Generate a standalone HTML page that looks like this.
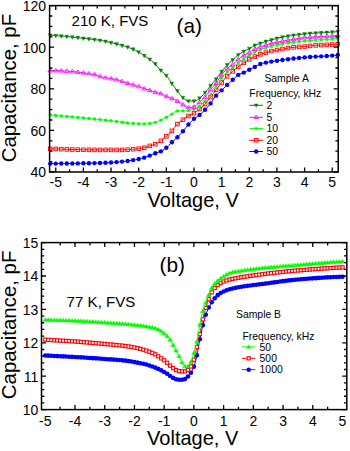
<!DOCTYPE html><html><head><meta charset="utf-8"><style>html,body{margin:0;padding:0;background:#fff;width:350px;height:451px;overflow:hidden}svg{display:block}</style></head><body><svg width="350" height="451" viewBox="0 0 350 451" font-family='"Liberation Sans", sans-serif' fill="#000"><rect width="350" height="451" fill="#fff"/><path d="M50.22 163.60L51.67 163.60L53.11 163.60L54.56 163.59L56.00 163.59L57.45 163.58L58.89 163.58L60.34 163.57L61.78 163.56L63.23 163.55L64.67 163.54L66.12 163.53L67.56 163.52L69.01 163.50L70.45 163.49L71.90 163.47L73.34 163.46L74.79 163.44L76.23 163.42L77.68 163.40L79.12 163.38L80.57 163.36L82.01 163.34L83.46 163.31L84.90 163.29L86.35 163.27L87.79 163.24L89.24 163.21L90.68 163.19L92.13 163.16L93.57 163.13L95.02 163.10L96.46 163.07L97.91 163.04L99.35 163.01L100.80 162.98L102.24 162.94L103.69 162.88L105.13 162.82L106.58 162.75L108.02 162.67L109.47 162.59L110.91 162.51L112.36 162.42L113.80 162.33L115.25 162.22L116.69 162.11L118.14 161.99L119.58 161.86L121.03 161.73L122.47 161.58L123.92 161.43L125.36 161.26L126.81 161.07L128.25 160.87L129.70 160.66L131.14 160.44L132.59 160.20L134.03 159.95L135.48 159.69L136.92 159.41L138.37 159.11L139.81 158.79L141.26 158.44L142.70 158.07L144.15 157.67L145.59 157.20L147.04 156.66L148.48 156.09L149.93 155.51L151.37 154.90L152.82 154.26L154.26 153.63L155.71 153.08L157.15 152.61L158.60 152.16L160.04 151.66L161.49 151.02L162.93 150.22L164.38 149.27L165.82 148.21L167.27 147.03L168.71 145.57L170.16 144.00L171.60 142.49L173.05 141.17L174.49 139.92L175.94 138.67L177.38 137.32L178.83 135.83L180.27 134.24L181.72 132.60L183.16 130.93L184.61 129.19L186.05 127.39L187.50 125.62L188.94 123.98L190.39 122.38L191.83 120.84L193.28 119.43L194.72 118.22L196.17 117.21L197.61 116.26L199.06 115.24L200.50 114.07L201.95 112.78L203.39 111.41L204.84 109.97L206.28 108.46L207.73 106.87L209.17 105.19L210.62 103.38L212.06 101.26L213.51 98.98L214.95 96.96L216.40 95.35L217.84 93.93L219.29 92.60L220.73 91.26L222.18 89.84L223.62 88.40L225.07 86.97L226.51 85.56L227.96 84.18L229.40 82.83L230.85 81.49L232.29 80.17L233.74 78.81L235.18 77.37L236.63 76.03L238.07 74.97L239.52 74.25L240.96 73.69L242.41 73.17L243.85 72.58L245.30 71.86L246.74 71.08L248.19 70.29L249.63 69.53L251.08 68.79L252.52 68.06L253.97 67.32L255.41 66.57L256.86 65.75L258.30 64.94L259.75 64.25L261.19 63.74L262.64 63.34L264.08 62.99L265.53 62.68L266.97 62.38L268.42 62.11L269.86 61.86L271.31 61.61L272.75 61.38L274.20 61.16L275.64 60.94L277.09 60.73L278.53 60.52L279.98 60.32L281.42 60.12L282.87 59.92L284.31 59.72L285.76 59.53L287.20 59.34L288.65 59.15L290.09 58.96L291.54 58.78L292.98 58.61L294.43 58.45L295.87 58.28L297.32 58.12L298.76 57.97L300.21 57.82L301.65 57.67L303.10 57.53L304.54 57.40L305.99 57.28L307.43 57.16L308.88 57.05L310.32 56.94L311.77 56.83L313.21 56.73L314.66 56.64L316.10 56.56L317.55 56.49L318.99 56.43L320.44 56.37L321.88 56.32L323.33 56.25L324.77 56.19L326.22 56.10L327.66 56.01L329.11 55.90L330.55 55.78L332.00 55.65L333.44 55.51L334.89 55.35L336.33 55.19L337.78 55.03" fill="none" stroke="#0000ff" stroke-width="1.0"/><circle cx="50.22" cy="163.60" r="2.2" fill="#0000ff" stroke="none" stroke-width="0"/><circle cx="55.75" cy="163.59" r="2.2" fill="#0000ff" stroke="none" stroke-width="0"/><circle cx="61.28" cy="163.56" r="2.2" fill="#0000ff" stroke="none" stroke-width="0"/><circle cx="66.81" cy="163.52" r="2.2" fill="#0000ff" stroke="none" stroke-width="0"/><circle cx="72.34" cy="163.47" r="2.2" fill="#0000ff" stroke="none" stroke-width="0"/><circle cx="77.87" cy="163.40" r="2.2" fill="#0000ff" stroke="none" stroke-width="0"/><circle cx="83.40" cy="163.31" r="2.2" fill="#0000ff" stroke="none" stroke-width="0"/><circle cx="88.93" cy="163.22" r="2.2" fill="#0000ff" stroke="none" stroke-width="0"/><circle cx="94.46" cy="163.12" r="2.2" fill="#0000ff" stroke="none" stroke-width="0"/><circle cx="99.99" cy="163.00" r="2.2" fill="#0000ff" stroke="none" stroke-width="0"/><circle cx="105.52" cy="162.80" r="2.2" fill="#0000ff" stroke="none" stroke-width="0"/><circle cx="111.05" cy="162.50" r="2.2" fill="#0000ff" stroke="none" stroke-width="0"/><circle cx="116.58" cy="162.12" r="2.2" fill="#0000ff" stroke="none" stroke-width="0"/><circle cx="122.11" cy="161.62" r="2.2" fill="#0000ff" stroke="none" stroke-width="0"/><circle cx="127.64" cy="160.96" r="2.2" fill="#0000ff" stroke="none" stroke-width="0"/><circle cx="133.17" cy="160.10" r="2.2" fill="#0000ff" stroke="none" stroke-width="0"/><circle cx="138.70" cy="159.04" r="2.2" fill="#0000ff" stroke="none" stroke-width="0"/><circle cx="144.23" cy="157.65" r="2.2" fill="#0000ff" stroke="none" stroke-width="0"/><circle cx="149.76" cy="155.58" r="2.2" fill="#0000ff" stroke="none" stroke-width="0"/><circle cx="155.29" cy="153.23" r="2.2" fill="#0000ff" stroke="none" stroke-width="0"/><circle cx="160.82" cy="151.34" r="2.2" fill="#0000ff" stroke="none" stroke-width="0"/><circle cx="166.35" cy="147.80" r="2.2" fill="#0000ff" stroke="none" stroke-width="0"/><circle cx="171.88" cy="142.23" r="2.2" fill="#0000ff" stroke="none" stroke-width="0"/><circle cx="177.41" cy="137.29" r="2.2" fill="#0000ff" stroke="none" stroke-width="0"/><circle cx="182.94" cy="131.19" r="2.2" fill="#0000ff" stroke="none" stroke-width="0"/><circle cx="188.47" cy="124.51" r="2.2" fill="#0000ff" stroke="none" stroke-width="0"/><circle cx="194.00" cy="118.80" r="2.2" fill="#0000ff" stroke="none" stroke-width="0"/><circle cx="199.53" cy="114.88" r="2.2" fill="#0000ff" stroke="none" stroke-width="0"/><circle cx="205.06" cy="109.74" r="2.2" fill="#0000ff" stroke="none" stroke-width="0"/><circle cx="210.59" cy="103.41" r="2.2" fill="#0000ff" stroke="none" stroke-width="0"/><circle cx="216.12" cy="95.64" r="2.2" fill="#0000ff" stroke="none" stroke-width="0"/><circle cx="221.65" cy="90.36" r="2.2" fill="#0000ff" stroke="none" stroke-width="0"/><circle cx="227.18" cy="84.92" r="2.2" fill="#0000ff" stroke="none" stroke-width="0"/><circle cx="232.71" cy="79.79" r="2.2" fill="#0000ff" stroke="none" stroke-width="0"/><circle cx="238.24" cy="74.88" r="2.2" fill="#0000ff" stroke="none" stroke-width="0"/><circle cx="243.77" cy="72.61" r="2.2" fill="#0000ff" stroke="none" stroke-width="0"/><circle cx="249.30" cy="69.70" r="2.2" fill="#0000ff" stroke="none" stroke-width="0"/><circle cx="254.83" cy="66.88" r="2.2" fill="#0000ff" stroke="none" stroke-width="0"/><circle cx="260.36" cy="64.01" r="2.2" fill="#0000ff" stroke="none" stroke-width="0"/><circle cx="265.89" cy="62.60" r="2.2" fill="#0000ff" stroke="none" stroke-width="0"/><circle cx="271.42" cy="61.60" r="2.2" fill="#0000ff" stroke="none" stroke-width="0"/><circle cx="276.95" cy="60.75" r="2.2" fill="#0000ff" stroke="none" stroke-width="0"/><circle cx="282.48" cy="59.98" r="2.2" fill="#0000ff" stroke="none" stroke-width="0"/><circle cx="288.01" cy="59.23" r="2.2" fill="#0000ff" stroke="none" stroke-width="0"/><circle cx="293.54" cy="58.55" r="2.2" fill="#0000ff" stroke="none" stroke-width="0"/><circle cx="299.07" cy="57.93" r="2.2" fill="#0000ff" stroke="none" stroke-width="0"/><circle cx="304.60" cy="57.40" r="2.2" fill="#0000ff" stroke="none" stroke-width="0"/><circle cx="310.13" cy="56.95" r="2.2" fill="#0000ff" stroke="none" stroke-width="0"/><circle cx="315.66" cy="56.59" r="2.2" fill="#0000ff" stroke="none" stroke-width="0"/><circle cx="321.19" cy="56.34" r="2.2" fill="#0000ff" stroke="none" stroke-width="0"/><circle cx="326.72" cy="56.07" r="2.2" fill="#0000ff" stroke="none" stroke-width="0"/><circle cx="332.25" cy="55.62" r="2.2" fill="#0000ff" stroke="none" stroke-width="0"/><circle cx="337.78" cy="55.03" r="2.2" fill="#0000ff" stroke="none" stroke-width="0"/><path d="M50.22 148.81L51.67 148.86L53.11 148.91L54.56 148.97L56.00 149.02L57.45 149.07L58.89 149.12L60.34 149.16L61.78 149.21L63.23 149.26L64.67 149.30L66.12 149.34L67.56 149.39L69.01 149.43L70.45 149.47L71.90 149.51L73.34 149.54L74.79 149.58L76.23 149.61L77.68 149.64L79.12 149.67L80.57 149.70L82.01 149.73L83.46 149.75L84.90 149.78L86.35 149.80L87.79 149.82L89.24 149.84L90.68 149.85L92.13 149.87L93.57 149.88L95.02 149.89L96.46 149.89L97.91 149.90L99.35 149.90L100.80 149.90L102.24 149.90L103.69 149.90L105.13 149.90L106.58 149.90L108.02 149.90L109.47 149.90L110.91 149.90L112.36 149.90L113.80 149.90L115.25 149.90L116.69 149.90L118.14 149.90L119.58 149.90L121.03 149.90L122.47 149.90L123.92 149.88L125.36 149.82L126.81 149.74L128.25 149.65L129.70 149.53L131.14 149.42L132.59 149.30L134.03 149.18L135.48 149.05L136.92 148.90L138.37 148.73L139.81 148.54L141.26 148.32L142.70 148.08L144.15 147.81L145.59 147.41L147.04 146.90L148.48 146.36L149.93 145.82L151.37 145.37L152.82 144.97L154.26 144.55L155.71 144.01L157.15 143.28L158.60 142.38L160.04 141.38L161.49 140.34L162.93 139.24L164.38 138.06L165.82 136.80L167.27 135.49L168.71 134.12L170.16 132.68L171.60 131.16L173.05 129.52L174.49 127.64L175.94 125.75L177.38 124.12L178.83 122.81L180.27 121.66L181.72 120.60L183.16 119.55L184.61 118.52L186.05 117.52L187.50 116.59L188.94 115.73L190.39 114.99L191.83 114.28L193.28 113.52L194.72 112.64L196.17 111.66L197.61 110.59L199.06 109.46L200.50 108.28L201.95 107.04L203.39 105.71L204.84 104.27L206.28 102.67L207.73 100.87L209.17 98.97L210.62 97.08L212.06 95.20L213.51 93.30L214.95 91.39L216.40 89.47L217.84 87.50L219.29 85.54L220.73 83.66L222.18 81.89L223.62 80.18L225.07 78.54L226.51 77.00L227.96 75.56L229.40 74.23L230.85 72.98L232.29 71.75L233.74 70.52L235.18 69.31L236.63 68.13L238.07 67.00L239.52 65.91L240.96 64.86L242.41 63.85L243.85 62.86L245.30 61.90L246.74 60.95L248.19 60.05L249.63 59.21L251.08 58.43L252.52 57.69L253.97 56.98L255.41 56.32L256.86 55.69L258.30 55.09L259.75 54.54L261.19 54.03L262.64 53.56L264.08 53.13L265.53 52.71L266.97 52.29L268.42 51.87L269.86 51.47L271.31 51.12L272.75 50.81L274.20 50.52L275.64 50.24L277.09 49.98L278.53 49.73L279.98 49.49L281.42 49.25L282.87 49.00L284.31 48.75L285.76 48.50L287.20 48.25L288.65 48.01L290.09 47.78L291.54 47.58L292.98 47.41L294.43 47.27L295.87 47.15L297.32 47.03L298.76 46.93L300.21 46.83L301.65 46.73L303.10 46.62L304.54 46.50L305.99 46.37L307.43 46.21L308.88 46.05L310.32 45.88L311.77 45.72L313.21 45.57L314.66 45.45L316.10 45.36L317.55 45.28L318.99 45.21L320.44 45.15L321.88 45.09L323.33 45.04L324.77 44.97L326.22 44.90L327.66 44.83L329.11 44.75L330.55 44.67L332.00 44.58L333.44 44.49L334.89 44.40L336.33 44.31L337.78 44.21" fill="none" stroke="#ff0000" stroke-width="1.0"/><rect x="48.42" y="147.01" width="3.6" height="3.6" fill="none" stroke="#ff0000" stroke-width="0.9"/><rect x="53.95" y="147.21" width="3.6" height="3.6" fill="none" stroke="#ff0000" stroke-width="0.9"/><rect x="59.48" y="147.39" width="3.6" height="3.6" fill="none" stroke="#ff0000" stroke-width="0.9"/><rect x="65.01" y="147.57" width="3.6" height="3.6" fill="none" stroke="#ff0000" stroke-width="0.9"/><rect x="70.54" y="147.72" width="3.6" height="3.6" fill="none" stroke="#ff0000" stroke-width="0.9"/><rect x="76.07" y="147.85" width="3.6" height="3.6" fill="none" stroke="#ff0000" stroke-width="0.9"/><rect x="81.60" y="147.95" width="3.6" height="3.6" fill="none" stroke="#ff0000" stroke-width="0.9"/><rect x="87.13" y="148.03" width="3.6" height="3.6" fill="none" stroke="#ff0000" stroke-width="0.9"/><rect x="92.66" y="148.08" width="3.6" height="3.6" fill="none" stroke="#ff0000" stroke-width="0.9"/><rect x="98.19" y="148.10" width="3.6" height="3.6" fill="none" stroke="#ff0000" stroke-width="0.9"/><rect x="103.72" y="148.10" width="3.6" height="3.6" fill="none" stroke="#ff0000" stroke-width="0.9"/><rect x="109.25" y="148.10" width="3.6" height="3.6" fill="none" stroke="#ff0000" stroke-width="0.9"/><rect x="114.78" y="148.10" width="3.6" height="3.6" fill="none" stroke="#ff0000" stroke-width="0.9"/><rect x="120.31" y="148.10" width="3.6" height="3.6" fill="none" stroke="#ff0000" stroke-width="0.9"/><rect x="125.84" y="147.89" width="3.6" height="3.6" fill="none" stroke="#ff0000" stroke-width="0.9"/><rect x="131.37" y="147.45" width="3.6" height="3.6" fill="none" stroke="#ff0000" stroke-width="0.9"/><rect x="136.90" y="146.88" width="3.6" height="3.6" fill="none" stroke="#ff0000" stroke-width="0.9"/><rect x="142.43" y="145.99" width="3.6" height="3.6" fill="none" stroke="#ff0000" stroke-width="0.9"/><rect x="147.96" y="144.08" width="3.6" height="3.6" fill="none" stroke="#ff0000" stroke-width="0.9"/><rect x="153.49" y="142.38" width="3.6" height="3.6" fill="none" stroke="#ff0000" stroke-width="0.9"/><rect x="159.02" y="139.02" width="3.6" height="3.6" fill="none" stroke="#ff0000" stroke-width="0.9"/><rect x="164.55" y="134.53" width="3.6" height="3.6" fill="none" stroke="#ff0000" stroke-width="0.9"/><rect x="170.08" y="129.06" width="3.6" height="3.6" fill="none" stroke="#ff0000" stroke-width="0.9"/><rect x="175.61" y="122.29" width="3.6" height="3.6" fill="none" stroke="#ff0000" stroke-width="0.9"/><rect x="181.14" y="117.92" width="3.6" height="3.6" fill="none" stroke="#ff0000" stroke-width="0.9"/><rect x="186.67" y="114.20" width="3.6" height="3.6" fill="none" stroke="#ff0000" stroke-width="0.9"/><rect x="192.20" y="111.30" width="3.6" height="3.6" fill="none" stroke="#ff0000" stroke-width="0.9"/><rect x="197.73" y="107.28" width="3.6" height="3.6" fill="none" stroke="#ff0000" stroke-width="0.9"/><rect x="203.26" y="102.24" width="3.6" height="3.6" fill="none" stroke="#ff0000" stroke-width="0.9"/><rect x="208.79" y="95.31" width="3.6" height="3.6" fill="none" stroke="#ff0000" stroke-width="0.9"/><rect x="214.32" y="88.04" width="3.6" height="3.6" fill="none" stroke="#ff0000" stroke-width="0.9"/><rect x="219.85" y="80.73" width="3.6" height="3.6" fill="none" stroke="#ff0000" stroke-width="0.9"/><rect x="225.38" y="74.52" width="3.6" height="3.6" fill="none" stroke="#ff0000" stroke-width="0.9"/><rect x="230.91" y="69.59" width="3.6" height="3.6" fill="none" stroke="#ff0000" stroke-width="0.9"/><rect x="236.44" y="65.07" width="3.6" height="3.6" fill="none" stroke="#ff0000" stroke-width="0.9"/><rect x="241.97" y="61.12" width="3.6" height="3.6" fill="none" stroke="#ff0000" stroke-width="0.9"/><rect x="247.50" y="57.60" width="3.6" height="3.6" fill="none" stroke="#ff0000" stroke-width="0.9"/><rect x="253.03" y="54.79" width="3.6" height="3.6" fill="none" stroke="#ff0000" stroke-width="0.9"/><rect x="258.56" y="52.51" width="3.6" height="3.6" fill="none" stroke="#ff0000" stroke-width="0.9"/><rect x="264.09" y="50.80" width="3.6" height="3.6" fill="none" stroke="#ff0000" stroke-width="0.9"/><rect x="269.62" y="49.30" width="3.6" height="3.6" fill="none" stroke="#ff0000" stroke-width="0.9"/><rect x="275.15" y="48.21" width="3.6" height="3.6" fill="none" stroke="#ff0000" stroke-width="0.9"/><rect x="280.68" y="47.27" width="3.6" height="3.6" fill="none" stroke="#ff0000" stroke-width="0.9"/><rect x="286.21" y="46.31" width="3.6" height="3.6" fill="none" stroke="#ff0000" stroke-width="0.9"/><rect x="291.74" y="45.55" width="3.6" height="3.6" fill="none" stroke="#ff0000" stroke-width="0.9"/><rect x="297.27" y="45.11" width="3.6" height="3.6" fill="none" stroke="#ff0000" stroke-width="0.9"/><rect x="302.80" y="44.70" width="3.6" height="3.6" fill="none" stroke="#ff0000" stroke-width="0.9"/><rect x="308.33" y="44.10" width="3.6" height="3.6" fill="none" stroke="#ff0000" stroke-width="0.9"/><rect x="313.86" y="43.58" width="3.6" height="3.6" fill="none" stroke="#ff0000" stroke-width="0.9"/><rect x="319.39" y="43.32" width="3.6" height="3.6" fill="none" stroke="#ff0000" stroke-width="0.9"/><rect x="324.92" y="43.08" width="3.6" height="3.6" fill="none" stroke="#ff0000" stroke-width="0.9"/><rect x="330.45" y="42.77" width="3.6" height="3.6" fill="none" stroke="#ff0000" stroke-width="0.9"/><rect x="335.98" y="42.41" width="3.6" height="3.6" fill="none" stroke="#ff0000" stroke-width="0.9"/><path d="M50.22 115.02L51.67 115.13L53.11 115.25L54.56 115.37L56.00 115.48L57.45 115.61L58.89 115.73L60.34 115.85L61.78 115.97L63.23 116.10L64.67 116.23L66.12 116.35L67.56 116.48L69.01 116.61L70.45 116.74L71.90 116.87L73.34 117.01L74.79 117.14L76.23 117.28L77.68 117.41L79.12 117.55L80.57 117.68L82.01 117.82L83.46 117.96L84.90 118.10L86.35 118.24L87.79 118.38L89.24 118.53L90.68 118.67L92.13 118.81L93.57 118.95L95.02 119.10L96.46 119.24L97.91 119.39L99.35 119.53L100.80 119.68L102.24 119.83L103.69 119.98L105.13 120.13L106.58 120.29L108.02 120.45L109.47 120.61L110.91 120.78L112.36 120.95L113.80 121.12L115.25 121.30L116.69 121.49L118.14 121.67L119.58 121.85L121.03 122.04L122.47 122.22L123.92 122.42L125.36 122.63L126.81 122.85L128.25 123.05L129.70 123.24L131.14 123.39L132.59 123.50L134.03 123.58L135.48 123.66L136.92 123.73L138.37 123.79L139.81 123.84L141.26 123.87L142.70 123.90L144.15 123.90L145.59 123.85L147.04 123.75L148.48 123.62L149.93 123.48L151.37 123.26L152.82 122.97L154.26 122.62L155.71 122.23L157.15 121.72L158.60 121.13L160.04 120.49L161.49 119.83L162.93 119.10L164.38 118.33L165.82 117.53L167.27 116.73L168.71 115.92L170.16 115.09L171.60 114.26L173.05 113.28L174.49 112.18L175.94 111.28L177.38 110.90L178.83 110.90L180.27 110.90L181.72 110.90L183.16 110.90L184.61 110.87L186.05 110.79L187.50 110.69L188.94 110.55L190.39 110.27L191.83 109.85L193.28 109.36L194.72 108.83L196.17 108.20L197.61 107.45L199.06 106.59L200.50 105.57L201.95 104.29L203.39 102.86L204.84 101.37L206.28 99.89L207.73 98.37L209.17 96.72L210.62 94.88L212.06 92.60L213.51 89.98L214.95 87.37L216.40 85.13L217.84 83.09L219.29 81.13L220.73 79.26L222.18 77.48L223.62 75.78L225.07 74.18L226.51 72.68L227.96 71.29L229.40 70.04L230.85 68.88L232.29 67.73L233.74 66.54L235.18 65.33L236.63 64.14L238.07 63.00L239.52 61.91L240.96 60.86L242.41 59.85L243.85 58.86L245.30 57.91L246.74 57.00L248.19 56.09L249.63 55.19L251.08 54.24L252.52 53.31L253.97 52.44L255.41 51.70L256.86 51.06L258.30 50.47L259.75 49.93L261.19 49.43L262.64 48.97L264.08 48.54L265.53 48.11L266.97 47.66L268.42 47.19L269.86 46.73L271.31 46.32L272.75 45.96L274.20 45.62L275.64 45.30L277.09 45.00L278.53 44.71L279.98 44.43L281.42 44.16L282.87 43.90L284.31 43.65L285.76 43.40L287.20 43.17L288.65 42.95L290.09 42.73L291.54 42.52L292.98 42.32L294.43 42.12L295.87 41.92L297.32 41.73L298.76 41.55L300.21 41.37L301.65 41.20L303.10 41.05L304.54 40.91L305.99 40.78L307.43 40.66L308.88 40.55L310.32 40.45L311.77 40.35L313.21 40.25L314.66 40.15L316.10 40.05L317.55 39.96L318.99 39.87L320.44 39.78L321.88 39.69L323.33 39.60L324.77 39.50L326.22 39.41L327.66 39.30L329.11 39.20L330.55 39.09L332.00 38.98L333.44 38.87L334.89 38.75L336.33 38.64L337.78 38.52" fill="none" stroke="#00ff00" stroke-width="1.0"/><circle cx="50.22" cy="115.02" r="1.7" fill="#00ff00" stroke="none" stroke-width="0"/><circle cx="55.75" cy="115.46" r="1.7" fill="#00ff00" stroke="none" stroke-width="0"/><circle cx="61.28" cy="115.93" r="1.7" fill="#00ff00" stroke="none" stroke-width="0"/><circle cx="66.81" cy="116.41" r="1.7" fill="#00ff00" stroke="none" stroke-width="0"/><circle cx="72.34" cy="116.91" r="1.7" fill="#00ff00" stroke="none" stroke-width="0"/><circle cx="77.87" cy="117.43" r="1.7" fill="#00ff00" stroke="none" stroke-width="0"/><circle cx="83.40" cy="117.96" r="1.7" fill="#00ff00" stroke="none" stroke-width="0"/><circle cx="88.93" cy="118.50" r="1.7" fill="#00ff00" stroke="none" stroke-width="0"/><circle cx="94.46" cy="119.04" r="1.7" fill="#00ff00" stroke="none" stroke-width="0"/><circle cx="99.99" cy="119.60" r="1.7" fill="#00ff00" stroke="none" stroke-width="0"/><circle cx="105.52" cy="120.18" r="1.7" fill="#00ff00" stroke="none" stroke-width="0"/><circle cx="111.05" cy="120.79" r="1.7" fill="#00ff00" stroke="none" stroke-width="0"/><circle cx="116.58" cy="121.47" r="1.7" fill="#00ff00" stroke="none" stroke-width="0"/><circle cx="122.11" cy="122.18" r="1.7" fill="#00ff00" stroke="none" stroke-width="0"/><circle cx="127.64" cy="122.97" r="1.7" fill="#00ff00" stroke="none" stroke-width="0"/><circle cx="133.17" cy="123.53" r="1.7" fill="#00ff00" stroke="none" stroke-width="0"/><circle cx="138.70" cy="123.80" r="1.7" fill="#00ff00" stroke="none" stroke-width="0"/><circle cx="144.23" cy="123.90" r="1.7" fill="#00ff00" stroke="none" stroke-width="0"/><circle cx="149.76" cy="123.49" r="1.7" fill="#00ff00" stroke="none" stroke-width="0"/><circle cx="155.29" cy="122.35" r="1.7" fill="#00ff00" stroke="none" stroke-width="0"/><circle cx="160.82" cy="120.14" r="1.7" fill="#00ff00" stroke="none" stroke-width="0"/><circle cx="166.35" cy="117.24" r="1.7" fill="#00ff00" stroke="none" stroke-width="0"/><circle cx="171.88" cy="114.09" r="1.7" fill="#00ff00" stroke="none" stroke-width="0"/><circle cx="177.41" cy="110.90" r="1.7" fill="#00ff00" stroke="none" stroke-width="0"/><circle cx="182.94" cy="110.90" r="1.7" fill="#00ff00" stroke="none" stroke-width="0"/><circle cx="188.47" cy="110.60" r="1.7" fill="#00ff00" stroke="none" stroke-width="0"/><circle cx="194.00" cy="109.10" r="1.7" fill="#00ff00" stroke="none" stroke-width="0"/><circle cx="199.53" cy="106.28" r="1.7" fill="#00ff00" stroke="none" stroke-width="0"/><circle cx="205.06" cy="101.14" r="1.7" fill="#00ff00" stroke="none" stroke-width="0"/><circle cx="210.59" cy="94.91" r="1.7" fill="#00ff00" stroke="none" stroke-width="0"/><circle cx="216.12" cy="85.53" r="1.7" fill="#00ff00" stroke="none" stroke-width="0"/><circle cx="221.65" cy="78.12" r="1.7" fill="#00ff00" stroke="none" stroke-width="0"/><circle cx="227.18" cy="72.02" r="1.7" fill="#00ff00" stroke="none" stroke-width="0"/><circle cx="232.71" cy="67.39" r="1.7" fill="#00ff00" stroke="none" stroke-width="0"/><circle cx="238.24" cy="62.87" r="1.7" fill="#00ff00" stroke="none" stroke-width="0"/><circle cx="243.77" cy="58.92" r="1.7" fill="#00ff00" stroke="none" stroke-width="0"/><circle cx="249.30" cy="55.40" r="1.7" fill="#00ff00" stroke="none" stroke-width="0"/><circle cx="254.83" cy="51.99" r="1.7" fill="#00ff00" stroke="none" stroke-width="0"/><circle cx="260.36" cy="49.71" r="1.7" fill="#00ff00" stroke="none" stroke-width="0"/><circle cx="265.89" cy="48.00" r="1.7" fill="#00ff00" stroke="none" stroke-width="0"/><circle cx="271.42" cy="46.29" r="1.7" fill="#00ff00" stroke="none" stroke-width="0"/><circle cx="276.95" cy="45.03" r="1.7" fill="#00ff00" stroke="none" stroke-width="0"/><circle cx="282.48" cy="43.97" r="1.7" fill="#00ff00" stroke="none" stroke-width="0"/><circle cx="288.01" cy="43.04" r="1.7" fill="#00ff00" stroke="none" stroke-width="0"/><circle cx="293.54" cy="42.24" r="1.7" fill="#00ff00" stroke="none" stroke-width="0"/><circle cx="299.07" cy="41.51" r="1.7" fill="#00ff00" stroke="none" stroke-width="0"/><circle cx="304.60" cy="40.90" r="1.7" fill="#00ff00" stroke="none" stroke-width="0"/><circle cx="310.13" cy="40.46" r="1.7" fill="#00ff00" stroke="none" stroke-width="0"/><circle cx="315.66" cy="40.08" r="1.7" fill="#00ff00" stroke="none" stroke-width="0"/><circle cx="321.19" cy="39.73" r="1.7" fill="#00ff00" stroke="none" stroke-width="0"/><circle cx="326.72" cy="39.37" r="1.7" fill="#00ff00" stroke="none" stroke-width="0"/><circle cx="332.25" cy="38.96" r="1.7" fill="#00ff00" stroke="none" stroke-width="0"/><circle cx="337.78" cy="38.52" r="1.7" fill="#00ff00" stroke="none" stroke-width="0"/><path d="M50.22 70.50L51.67 70.50L53.11 70.51L54.56 70.53L56.00 70.56L57.45 70.60L58.89 70.65L60.34 70.71L61.78 70.77L63.23 70.85L64.67 70.93L66.12 71.03L67.56 71.13L69.01 71.24L70.45 71.36L71.90 71.49L73.34 71.63L74.79 71.77L76.23 71.93L77.68 72.09L79.12 72.26L80.57 72.43L82.01 72.62L83.46 72.81L84.90 73.01L86.35 73.22L87.79 73.43L89.24 73.65L90.68 73.88L92.13 74.12L93.57 74.36L95.02 74.64L96.46 75.13L97.91 75.74L99.35 76.30L100.80 76.70L102.24 77.04L103.69 77.34L105.13 77.61L106.58 77.86L108.02 78.10L109.47 78.33L110.91 78.56L112.36 78.81L113.80 79.07L115.25 79.36L116.69 79.68L118.14 80.04L119.58 80.46L121.03 80.91L122.47 81.39L123.92 81.88L125.36 82.37L126.81 82.84L128.25 83.30L129.70 83.75L131.14 84.19L132.59 84.64L134.03 85.06L135.48 85.48L136.92 85.90L138.37 86.36L139.81 86.88L141.26 87.47L142.70 88.06L144.15 88.58L145.59 89.03L147.04 89.45L148.48 89.87L149.93 90.35L151.37 90.87L152.82 91.41L154.26 91.91L155.71 92.31L157.15 92.62L158.60 92.92L160.04 93.29L161.49 93.86L162.93 94.77L164.38 95.59L165.82 96.10L167.27 96.63L168.71 97.18L170.16 97.75L171.60 98.34L173.05 98.97L174.49 99.63L175.94 100.33L177.38 101.09L178.83 101.96L180.27 102.92L181.72 103.89L183.16 104.75L184.61 105.68L186.05 106.60L187.50 107.25L188.94 107.40L190.39 107.33L191.83 107.20L193.28 107.01L194.72 106.67L196.17 105.64L197.61 104.20L199.06 102.71L200.50 101.43L201.95 100.18L203.39 98.85L204.84 97.39L206.28 95.64L207.73 93.59L209.17 91.45L210.62 89.48L212.06 87.76L213.51 86.16L214.95 84.51L216.40 82.66L217.84 80.47L219.29 78.16L220.73 75.99L222.18 74.12L223.62 72.35L225.07 70.71L226.51 69.23L227.96 67.97L229.40 66.93L230.85 65.96L232.29 64.92L233.74 63.68L235.18 62.26L236.63 60.82L238.07 59.50L239.52 58.35L240.96 57.27L242.41 56.27L243.85 55.37L245.30 54.59L246.74 53.89L248.19 53.19L249.63 52.41L251.08 51.47L252.52 50.47L253.97 49.55L255.41 48.81L256.86 48.20L258.30 47.65L259.75 47.13L261.19 46.62L262.64 46.14L264.08 45.67L265.53 45.22L266.97 44.75L268.42 44.28L269.86 43.83L271.31 43.42L272.75 43.06L274.20 42.72L275.64 42.40L277.09 42.10L278.53 41.81L279.98 41.53L281.42 41.26L282.87 41.00L284.31 40.75L285.76 40.52L287.20 40.29L288.65 40.08L290.09 39.86L291.54 39.64L292.98 39.42L294.43 39.18L295.87 38.94L297.32 38.68L298.76 38.43L300.21 38.19L301.65 37.97L303.10 37.77L304.54 37.61L305.99 37.47L307.43 37.34L308.88 37.22L310.32 37.12L311.77 37.02L313.21 36.93L314.66 36.84L316.10 36.76L317.55 36.69L318.99 36.63L320.44 36.57L321.88 36.51L323.33 36.45L324.77 36.38L326.22 36.30L327.66 36.22L329.11 36.12L330.55 36.02L332.00 35.91L333.44 35.80L334.89 35.68L336.33 35.55L337.78 35.42" fill="none" stroke="#ff00ff" stroke-width="1.0"/><path d="M47.92 71.88L52.52 71.88L50.22 68.32Z" fill="none" stroke="#ff00ff" stroke-width="0.85"/><path d="M53.45 71.94L58.05 71.94L55.75 68.37Z" fill="none" stroke="#ff00ff" stroke-width="0.85"/><path d="M58.98 72.13L63.58 72.13L61.28 68.56Z" fill="none" stroke="#ff00ff" stroke-width="0.85"/><path d="M64.51 72.46L69.11 72.46L66.81 68.89Z" fill="none" stroke="#ff00ff" stroke-width="0.85"/><path d="M70.04 72.91L74.64 72.91L72.34 69.35Z" fill="none" stroke="#ff00ff" stroke-width="0.85"/><path d="M75.57 73.49L80.17 73.49L77.87 69.93Z" fill="none" stroke="#ff00ff" stroke-width="0.85"/><path d="M81.10 74.18L85.70 74.18L83.40 70.62Z" fill="none" stroke="#ff00ff" stroke-width="0.85"/><path d="M86.63 74.99L91.23 74.99L88.93 71.42Z" fill="none" stroke="#ff00ff" stroke-width="0.85"/><path d="M92.16 75.89L96.76 75.89L94.46 72.33Z" fill="none" stroke="#ff00ff" stroke-width="0.85"/><path d="M97.69 77.88L102.29 77.88L99.99 74.31Z" fill="none" stroke="#ff00ff" stroke-width="0.85"/><path d="M103.22 79.06L107.82 79.06L105.52 75.49Z" fill="none" stroke="#ff00ff" stroke-width="0.85"/><path d="M108.75 79.97L113.35 79.97L111.05 76.40Z" fill="none" stroke="#ff00ff" stroke-width="0.85"/><path d="M114.28 81.03L118.88 81.03L116.58 77.47Z" fill="none" stroke="#ff00ff" stroke-width="0.85"/><path d="M119.81 82.65L124.41 82.65L122.11 79.08Z" fill="none" stroke="#ff00ff" stroke-width="0.85"/><path d="M125.34 84.49L129.94 84.49L127.64 80.92Z" fill="none" stroke="#ff00ff" stroke-width="0.85"/><path d="M130.87 86.19L135.47 86.19L133.17 82.63Z" fill="none" stroke="#ff00ff" stroke-width="0.85"/><path d="M136.40 87.85L141.00 87.85L138.70 84.28Z" fill="none" stroke="#ff00ff" stroke-width="0.85"/><path d="M141.93 89.99L146.53 89.99L144.23 86.43Z" fill="none" stroke="#ff00ff" stroke-width="0.85"/><path d="M147.46 91.67L152.06 91.67L149.76 88.10Z" fill="none" stroke="#ff00ff" stroke-width="0.85"/><path d="M152.99 93.59L157.59 93.59L155.29 90.02Z" fill="none" stroke="#ff00ff" stroke-width="0.85"/><path d="M158.52 94.92L163.12 94.92L160.82 91.36Z" fill="none" stroke="#ff00ff" stroke-width="0.85"/><path d="M164.05 97.67L168.65 97.67L166.35 94.11Z" fill="none" stroke="#ff00ff" stroke-width="0.85"/><path d="M169.58 99.84L174.18 99.84L171.88 96.28Z" fill="none" stroke="#ff00ff" stroke-width="0.85"/><path d="M175.11 102.49L179.71 102.49L177.41 98.92Z" fill="none" stroke="#ff00ff" stroke-width="0.85"/><path d="M180.64 106.00L185.24 106.00L182.94 102.44Z" fill="none" stroke="#ff00ff" stroke-width="0.85"/><path d="M186.17 108.78L190.77 108.78L188.47 105.21Z" fill="none" stroke="#ff00ff" stroke-width="0.85"/><path d="M191.70 108.28L196.30 108.28L194.00 104.72Z" fill="none" stroke="#ff00ff" stroke-width="0.85"/><path d="M197.23 103.65L201.83 103.65L199.53 100.09Z" fill="none" stroke="#ff00ff" stroke-width="0.85"/><path d="M202.76 98.52L207.36 98.52L205.06 94.96Z" fill="none" stroke="#ff00ff" stroke-width="0.85"/><path d="M208.29 90.89L212.89 90.89L210.59 87.33Z" fill="none" stroke="#ff00ff" stroke-width="0.85"/><path d="M213.82 84.42L218.42 84.42L216.12 80.86Z" fill="none" stroke="#ff00ff" stroke-width="0.85"/><path d="M219.35 76.17L223.95 76.17L221.65 72.61Z" fill="none" stroke="#ff00ff" stroke-width="0.85"/><path d="M224.88 70.00L229.48 70.00L227.18 66.43Z" fill="none" stroke="#ff00ff" stroke-width="0.85"/><path d="M230.41 65.97L235.01 65.97L232.71 62.41Z" fill="none" stroke="#ff00ff" stroke-width="0.85"/><path d="M235.94 60.75L240.54 60.75L238.24 57.18Z" fill="none" stroke="#ff00ff" stroke-width="0.85"/><path d="M241.47 56.80L246.07 56.80L243.77 53.23Z" fill="none" stroke="#ff00ff" stroke-width="0.85"/><path d="M247.00 53.98L251.60 53.98L249.30 50.41Z" fill="none" stroke="#ff00ff" stroke-width="0.85"/><path d="M252.53 50.47L257.13 50.47L254.83 46.90Z" fill="none" stroke="#ff00ff" stroke-width="0.85"/><path d="M258.06 48.29L262.66 48.29L260.36 44.73Z" fill="none" stroke="#ff00ff" stroke-width="0.85"/><path d="M263.59 46.48L268.19 46.48L265.89 42.92Z" fill="none" stroke="#ff00ff" stroke-width="0.85"/><path d="M269.12 44.77L273.72 44.77L271.42 41.21Z" fill="none" stroke="#ff00ff" stroke-width="0.85"/><path d="M274.65 43.51L279.25 43.51L276.95 39.94Z" fill="none" stroke="#ff00ff" stroke-width="0.85"/><path d="M280.18 42.45L284.78 42.45L282.48 38.88Z" fill="none" stroke="#ff00ff" stroke-width="0.85"/><path d="M285.71 41.55L290.31 41.55L288.01 37.99Z" fill="none" stroke="#ff00ff" stroke-width="0.85"/><path d="M291.24 40.71L295.84 40.71L293.54 37.15Z" fill="none" stroke="#ff00ff" stroke-width="0.85"/><path d="M296.77 39.76L301.37 39.76L299.07 36.20Z" fill="none" stroke="#ff00ff" stroke-width="0.85"/><path d="M302.30 38.98L306.90 38.98L304.60 35.41Z" fill="none" stroke="#ff00ff" stroke-width="0.85"/><path d="M307.83 38.51L312.43 38.51L310.13 34.95Z" fill="none" stroke="#ff00ff" stroke-width="0.85"/><path d="M313.36 38.17L317.96 38.17L315.66 34.60Z" fill="none" stroke="#ff00ff" stroke-width="0.85"/><path d="M318.89 37.92L323.49 37.92L321.19 34.35Z" fill="none" stroke="#ff00ff" stroke-width="0.85"/><path d="M324.42 37.66L329.02 37.66L326.72 34.09Z" fill="none" stroke="#ff00ff" stroke-width="0.85"/><path d="M329.95 37.27L334.55 37.27L332.25 33.71Z" fill="none" stroke="#ff00ff" stroke-width="0.85"/><path d="M335.48 36.80L340.08 36.80L337.78 33.24Z" fill="none" stroke="#ff00ff" stroke-width="0.85"/><path d="M50.22 35.25L51.67 35.35L53.11 35.46L54.56 35.57L56.00 35.68L57.45 35.79L58.89 35.90L60.34 36.02L61.78 36.14L63.23 36.26L64.67 36.39L66.12 36.51L67.56 36.65L69.01 36.78L70.45 36.92L71.90 37.06L73.34 37.21L74.79 37.36L76.23 37.52L77.68 37.69L79.12 37.85L80.57 38.02L82.01 38.19L83.46 38.35L84.90 38.51L86.35 38.67L87.79 38.83L89.24 38.99L90.68 39.15L92.13 39.32L93.57 39.50L95.02 39.68L96.46 39.87L97.91 40.07L99.35 40.29L100.80 40.54L102.24 40.79L103.69 41.07L105.13 41.36L106.58 41.66L108.02 41.97L109.47 42.30L110.91 42.64L112.36 42.98L113.80 43.34L115.25 43.70L116.69 44.07L118.14 44.44L119.58 44.82L121.03 45.21L122.47 45.61L123.92 46.02L125.36 46.45L126.81 46.90L128.25 47.38L129.70 47.89L131.14 48.42L132.59 48.99L134.03 49.63L135.48 50.34L136.92 51.11L138.37 51.95L139.81 52.82L141.26 53.73L142.70 54.66L144.15 55.60L145.59 56.55L147.04 57.50L148.48 58.48L149.93 59.51L151.37 60.60L152.82 61.76L154.26 63.01L155.71 64.43L157.15 66.15L158.60 67.97L160.04 69.64L161.49 71.06L162.93 72.35L164.38 73.63L165.82 75.01L167.27 76.62L168.71 78.63L170.16 80.89L171.60 83.13L173.05 85.17L174.49 87.12L175.94 89.02L177.38 90.88L178.83 92.81L180.27 94.78L181.72 96.55L183.16 97.92L184.61 99.13L186.05 100.21L187.50 100.93L188.94 101.10L190.39 101.10L191.83 101.10L193.28 101.10L194.72 101.02L196.17 100.49L197.61 99.62L199.06 98.61L200.50 97.52L201.95 96.14L203.39 94.55L204.84 92.90L206.28 91.21L207.73 89.38L209.17 87.50L210.62 85.68L212.06 83.94L213.51 82.24L214.95 80.52L216.40 78.72L217.84 76.81L219.29 74.85L220.73 72.90L222.18 71.02L223.62 69.15L225.07 67.33L226.51 65.64L227.96 64.15L229.40 62.84L230.85 61.61L232.29 60.36L233.74 59.02L235.18 57.60L236.63 56.22L238.07 55.00L239.52 53.97L240.96 53.04L242.41 52.19L243.85 51.37L245.30 50.61L246.74 49.89L248.19 49.18L249.63 48.41L251.08 47.54L252.52 46.64L253.97 45.80L255.41 45.14L256.86 44.59L258.30 44.10L259.75 43.62L261.19 43.12L262.64 42.60L264.08 42.09L265.53 41.61L266.97 41.18L268.42 40.79L269.86 40.41L271.31 40.02L272.75 39.63L274.20 39.21L275.64 38.80L277.09 38.38L278.53 37.99L279.98 37.62L281.42 37.28L282.87 36.99L284.31 36.72L285.76 36.48L287.20 36.24L288.65 36.03L290.09 35.82L291.54 35.62L292.98 35.42L294.43 35.22L295.87 35.03L297.32 34.84L298.76 34.65L300.21 34.48L301.65 34.31L303.10 34.15L304.54 34.01L305.99 33.87L307.43 33.73L308.88 33.60L310.32 33.48L311.77 33.36L313.21 33.25L314.66 33.15L316.10 33.05L317.55 32.97L318.99 32.89L320.44 32.82L321.88 32.75L323.33 32.67L324.77 32.59L326.22 32.51L327.66 32.41L329.11 32.31L330.55 32.21L332.00 32.10L333.44 31.98L334.89 31.87L336.33 31.74L337.78 31.62" fill="none" stroke="#008000" stroke-width="1.0"/><path d="M48.32 33.83L52.12 33.83L50.22 37.44Z" fill="#008000" stroke="#008000" stroke-width="0.4"/><path d="M53.85 34.23L57.65 34.23L55.75 37.84Z" fill="#008000" stroke="#008000" stroke-width="0.4"/><path d="M59.38 34.67L63.18 34.67L61.28 38.28Z" fill="#008000" stroke="#008000" stroke-width="0.4"/><path d="M64.91 35.15L68.71 35.15L66.81 38.76Z" fill="#008000" stroke="#008000" stroke-width="0.4"/><path d="M70.44 35.68L74.24 35.68L72.34 39.29Z" fill="#008000" stroke="#008000" stroke-width="0.4"/><path d="M75.97 36.28L79.77 36.28L77.87 39.89Z" fill="#008000" stroke="#008000" stroke-width="0.4"/><path d="M81.50 36.92L85.30 36.92L83.40 40.53Z" fill="#008000" stroke="#008000" stroke-width="0.4"/><path d="M87.03 37.53L90.83 37.53L88.93 41.14Z" fill="#008000" stroke="#008000" stroke-width="0.4"/><path d="M92.56 38.18L96.36 38.18L94.46 41.79Z" fill="#008000" stroke="#008000" stroke-width="0.4"/><path d="M98.09 38.97L101.89 38.97L99.99 42.58Z" fill="#008000" stroke="#008000" stroke-width="0.4"/><path d="M103.62 40.01L107.42 40.01L105.52 43.62Z" fill="#008000" stroke="#008000" stroke-width="0.4"/><path d="M109.15 41.24L112.95 41.24L111.05 44.85Z" fill="#008000" stroke="#008000" stroke-width="0.4"/><path d="M114.68 42.61L118.48 42.61L116.58 46.22Z" fill="#008000" stroke="#008000" stroke-width="0.4"/><path d="M120.21 44.08L124.01 44.08L122.11 47.69Z" fill="#008000" stroke="#008000" stroke-width="0.4"/><path d="M125.74 45.75L129.54 45.75L127.64 49.36Z" fill="#008000" stroke="#008000" stroke-width="0.4"/><path d="M131.27 47.82L135.07 47.82L133.17 51.43Z" fill="#008000" stroke="#008000" stroke-width="0.4"/><path d="M136.80 50.72L140.60 50.72L138.70 54.33Z" fill="#008000" stroke="#008000" stroke-width="0.4"/><path d="M142.33 54.23L146.13 54.23L144.23 57.84Z" fill="#008000" stroke="#008000" stroke-width="0.4"/><path d="M147.86 57.96L151.66 57.96L149.76 61.57Z" fill="#008000" stroke="#008000" stroke-width="0.4"/><path d="M153.39 62.56L157.19 62.56L155.29 66.17Z" fill="#008000" stroke="#008000" stroke-width="0.4"/><path d="M158.92 69.01L162.72 69.01L160.82 72.62Z" fill="#008000" stroke="#008000" stroke-width="0.4"/><path d="M164.45 74.14L168.25 74.14L166.35 77.75Z" fill="#008000" stroke="#008000" stroke-width="0.4"/><path d="M169.98 82.12L173.78 82.12L171.88 85.73Z" fill="#008000" stroke="#008000" stroke-width="0.4"/><path d="M175.51 89.49L179.31 89.49L177.41 93.10Z" fill="#008000" stroke="#008000" stroke-width="0.4"/><path d="M181.04 96.31L184.84 96.31L182.94 99.92Z" fill="#008000" stroke="#008000" stroke-width="0.4"/><path d="M186.57 99.67L190.37 99.67L188.47 103.28Z" fill="#008000" stroke="#008000" stroke-width="0.4"/><path d="M192.10 99.67L195.90 99.67L194.00 103.28Z" fill="#008000" stroke="#008000" stroke-width="0.4"/><path d="M197.63 96.85L201.43 96.85L199.53 100.46Z" fill="#008000" stroke="#008000" stroke-width="0.4"/><path d="M203.16 91.22L206.96 91.22L205.06 94.83Z" fill="#008000" stroke="#008000" stroke-width="0.4"/><path d="M208.69 84.29L212.49 84.29L210.59 87.90Z" fill="#008000" stroke="#008000" stroke-width="0.4"/><path d="M214.22 77.65L218.02 77.65L216.12 81.26Z" fill="#008000" stroke="#008000" stroke-width="0.4"/><path d="M219.75 70.28L223.55 70.28L221.65 73.89Z" fill="#008000" stroke="#008000" stroke-width="0.4"/><path d="M225.28 63.50L229.08 63.50L227.18 67.11Z" fill="#008000" stroke="#008000" stroke-width="0.4"/><path d="M230.81 58.57L234.61 58.57L232.71 62.18Z" fill="#008000" stroke="#008000" stroke-width="0.4"/><path d="M236.34 53.45L240.14 53.45L238.24 57.06Z" fill="#008000" stroke="#008000" stroke-width="0.4"/><path d="M241.87 49.99L245.67 49.99L243.77 53.60Z" fill="#008000" stroke="#008000" stroke-width="0.4"/><path d="M247.40 47.18L251.20 47.18L249.30 50.79Z" fill="#008000" stroke="#008000" stroke-width="0.4"/><path d="M252.93 43.96L256.73 43.96L254.83 47.57Z" fill="#008000" stroke="#008000" stroke-width="0.4"/><path d="M258.46 41.99L262.26 41.99L260.36 45.60Z" fill="#008000" stroke="#008000" stroke-width="0.4"/><path d="M263.99 40.08L267.79 40.08L265.89 43.69Z" fill="#008000" stroke="#008000" stroke-width="0.4"/><path d="M269.52 38.57L273.32 38.57L271.42 42.18Z" fill="#008000" stroke="#008000" stroke-width="0.4"/><path d="M275.05 37.00L278.85 37.00L276.95 40.61Z" fill="#008000" stroke="#008000" stroke-width="0.4"/><path d="M280.58 35.64L284.38 35.64L282.48 39.25Z" fill="#008000" stroke="#008000" stroke-width="0.4"/><path d="M286.11 34.70L289.91 34.70L288.01 38.31Z" fill="#008000" stroke="#008000" stroke-width="0.4"/><path d="M291.64 33.91L295.44 33.91L293.54 37.52Z" fill="#008000" stroke="#008000" stroke-width="0.4"/><path d="M297.17 33.19L300.97 33.19L299.07 36.80Z" fill="#008000" stroke="#008000" stroke-width="0.4"/><path d="M302.70 32.58L306.50 32.58L304.60 36.19Z" fill="#008000" stroke="#008000" stroke-width="0.4"/><path d="M308.23 32.07L312.03 32.07L310.13 35.68Z" fill="#008000" stroke="#008000" stroke-width="0.4"/><path d="M313.76 31.66L317.56 31.66L315.66 35.27Z" fill="#008000" stroke="#008000" stroke-width="0.4"/><path d="M319.29 31.35L323.09 31.35L321.19 34.96Z" fill="#008000" stroke="#008000" stroke-width="0.4"/><path d="M324.82 31.05L328.62 31.05L326.72 34.66Z" fill="#008000" stroke="#008000" stroke-width="0.4"/><path d="M330.35 30.65L334.15 30.65L332.25 34.26Z" fill="#008000" stroke="#008000" stroke-width="0.4"/><path d="M335.88 30.19L339.68 30.19L337.78 33.80Z" fill="#008000" stroke="#008000" stroke-width="0.4"/><path d="M45.30 355.46L46.79 355.55L48.29 355.64L49.78 355.72L51.27 355.80L52.77 355.88L54.26 355.95L55.75 356.03L57.25 356.10L58.74 356.17L60.23 356.25L61.73 356.32L63.22 356.39L64.72 356.46L66.21 356.53L67.70 356.61L69.20 356.68L70.69 356.76L72.18 356.84L73.68 356.92L75.17 357.01L76.66 357.10L78.16 357.19L79.65 357.28L81.14 357.37L82.64 357.47L84.13 357.56L85.62 357.66L87.12 357.75L88.61 357.85L90.10 357.95L91.60 358.05L93.09 358.15L94.58 358.26L96.08 358.36L97.57 358.47L99.06 358.57L100.56 358.68L102.05 358.79L103.55 358.89L105.04 359.00L106.53 359.11L108.03 359.22L109.52 359.32L111.01 359.42L112.51 359.53L114.00 359.63L115.49 359.74L116.99 359.86L118.48 359.98L119.97 360.10L121.47 360.24L122.96 360.38L124.45 360.54L125.95 360.71L127.44 360.91L128.93 361.14L130.43 361.39L131.92 361.65L133.41 361.92L134.91 362.18L136.40 362.45L137.89 362.72L139.39 362.99L140.88 363.28L142.38 363.59L143.87 363.93L145.36 364.29L146.86 364.69L148.35 365.14L149.84 365.61L151.34 366.12L152.83 366.67L154.32 367.23L155.82 367.83L157.31 368.47L158.80 369.16L160.30 369.90L161.79 370.66L163.28 371.47L164.78 372.30L166.27 373.16L167.76 374.17L169.26 375.31L170.75 376.44L172.24 377.45L173.74 378.22L175.23 378.85L176.73 379.41L178.22 379.76L179.71 379.79L181.21 379.74L182.70 379.63L184.19 379.47L185.69 378.59L187.18 377.23L188.67 375.75L190.17 373.91L191.66 371.63L193.15 368.57L194.65 364.53L196.14 358.92L197.63 351.44L199.13 343.34L200.62 335.30L202.11 328.16L203.61 322.06L205.10 316.85L206.59 312.52L208.09 308.98L209.58 305.96L211.07 303.25L212.57 300.94L214.06 299.06L215.56 297.33L217.05 295.77L218.54 294.41L220.04 293.31L221.53 292.45L223.02 291.70L224.52 291.05L226.01 290.47L227.50 289.96L229.00 289.49L230.49 289.06L231.98 288.66L233.48 288.29L234.97 287.96L236.46 287.65L237.96 287.36L239.45 287.10L240.94 286.84L242.44 286.60L243.93 286.36L245.42 286.14L246.92 285.92L248.41 285.71L249.91 285.51L251.40 285.31L252.89 285.12L254.39 284.93L255.88 284.74L257.37 284.56L258.87 284.38L260.36 284.19L261.85 284.01L263.35 283.83L264.84 283.64L266.33 283.45L267.83 283.26L269.32 283.06L270.81 282.85L272.31 282.65L273.80 282.44L275.29 282.23L276.79 282.02L278.28 281.81L279.77 281.60L281.27 281.39L282.76 281.19L284.25 280.99L285.75 280.80L287.24 280.62L288.74 280.44L290.23 280.27L291.72 280.11L293.22 279.96L294.71 279.83L296.20 279.70L297.70 279.57L299.19 279.44L300.68 279.32L302.18 279.19L303.67 279.07L305.16 278.94L306.66 278.82L308.15 278.70L309.64 278.59L311.14 278.47L312.63 278.36L314.12 278.25L315.62 278.14L317.11 278.03L318.60 277.93L320.10 277.83L321.59 277.73L323.08 277.64L324.58 277.55L326.07 277.46L327.57 277.37L329.06 277.29L330.55 277.22L332.05 277.14L333.54 277.07L335.03 277.01L336.53 276.95L338.02 276.89L339.51 276.84L341.01 276.80L342.50 276.76" fill="none" stroke="#0000ff" stroke-width="1.0"/><circle cx="45.30" cy="355.46" r="2.3" fill="#0000ff" stroke="none" stroke-width="0"/><circle cx="48.27" cy="355.64" r="2.3" fill="#0000ff" stroke="none" stroke-width="0"/><circle cx="51.24" cy="355.80" r="2.3" fill="#0000ff" stroke="none" stroke-width="0"/><circle cx="54.22" cy="355.95" r="2.3" fill="#0000ff" stroke="none" stroke-width="0"/><circle cx="57.19" cy="356.10" r="2.3" fill="#0000ff" stroke="none" stroke-width="0"/><circle cx="60.16" cy="356.24" r="2.3" fill="#0000ff" stroke="none" stroke-width="0"/><circle cx="63.13" cy="356.38" r="2.3" fill="#0000ff" stroke="none" stroke-width="0"/><circle cx="66.10" cy="356.53" r="2.3" fill="#0000ff" stroke="none" stroke-width="0"/><circle cx="69.08" cy="356.68" r="2.3" fill="#0000ff" stroke="none" stroke-width="0"/><circle cx="72.05" cy="356.83" r="2.3" fill="#0000ff" stroke="none" stroke-width="0"/><circle cx="75.02" cy="357.00" r="2.3" fill="#0000ff" stroke="none" stroke-width="0"/><circle cx="77.99" cy="357.18" r="2.3" fill="#0000ff" stroke="none" stroke-width="0"/><circle cx="80.96" cy="357.36" r="2.3" fill="#0000ff" stroke="none" stroke-width="0"/><circle cx="83.94" cy="357.55" r="2.3" fill="#0000ff" stroke="none" stroke-width="0"/><circle cx="86.91" cy="357.74" r="2.3" fill="#0000ff" stroke="none" stroke-width="0"/><circle cx="89.88" cy="357.94" r="2.3" fill="#0000ff" stroke="none" stroke-width="0"/><circle cx="92.85" cy="358.14" r="2.3" fill="#0000ff" stroke="none" stroke-width="0"/><circle cx="95.82" cy="358.34" r="2.3" fill="#0000ff" stroke="none" stroke-width="0"/><circle cx="98.80" cy="358.55" r="2.3" fill="#0000ff" stroke="none" stroke-width="0"/><circle cx="101.77" cy="358.77" r="2.3" fill="#0000ff" stroke="none" stroke-width="0"/><circle cx="104.74" cy="358.98" r="2.3" fill="#0000ff" stroke="none" stroke-width="0"/><circle cx="107.71" cy="359.19" r="2.3" fill="#0000ff" stroke="none" stroke-width="0"/><circle cx="110.68" cy="359.40" r="2.3" fill="#0000ff" stroke="none" stroke-width="0"/><circle cx="113.66" cy="359.61" r="2.3" fill="#0000ff" stroke="none" stroke-width="0"/><circle cx="116.63" cy="359.83" r="2.3" fill="#0000ff" stroke="none" stroke-width="0"/><circle cx="119.60" cy="360.07" r="2.3" fill="#0000ff" stroke="none" stroke-width="0"/><circle cx="122.57" cy="360.35" r="2.3" fill="#0000ff" stroke="none" stroke-width="0"/><circle cx="125.54" cy="360.66" r="2.3" fill="#0000ff" stroke="none" stroke-width="0"/><circle cx="128.52" cy="361.08" r="2.3" fill="#0000ff" stroke="none" stroke-width="0"/><circle cx="131.49" cy="361.57" r="2.3" fill="#0000ff" stroke="none" stroke-width="0"/><circle cx="134.46" cy="362.10" r="2.3" fill="#0000ff" stroke="none" stroke-width="0"/><circle cx="137.43" cy="362.63" r="2.3" fill="#0000ff" stroke="none" stroke-width="0"/><circle cx="140.40" cy="363.19" r="2.3" fill="#0000ff" stroke="none" stroke-width="0"/><circle cx="143.38" cy="363.81" r="2.3" fill="#0000ff" stroke="none" stroke-width="0"/><circle cx="146.35" cy="364.55" r="2.3" fill="#0000ff" stroke="none" stroke-width="0"/><circle cx="149.32" cy="365.44" r="2.3" fill="#0000ff" stroke="none" stroke-width="0"/><circle cx="152.29" cy="366.47" r="2.3" fill="#0000ff" stroke="none" stroke-width="0"/><circle cx="155.26" cy="367.61" r="2.3" fill="#0000ff" stroke="none" stroke-width="0"/><circle cx="158.24" cy="368.90" r="2.3" fill="#0000ff" stroke="none" stroke-width="0"/><circle cx="161.21" cy="370.36" r="2.3" fill="#0000ff" stroke="none" stroke-width="0"/><circle cx="164.18" cy="371.96" r="2.3" fill="#0000ff" stroke="none" stroke-width="0"/><circle cx="167.15" cy="373.74" r="2.3" fill="#0000ff" stroke="none" stroke-width="0"/><circle cx="170.12" cy="375.97" r="2.3" fill="#0000ff" stroke="none" stroke-width="0"/><circle cx="173.10" cy="377.92" r="2.3" fill="#0000ff" stroke="none" stroke-width="0"/><circle cx="176.07" cy="379.18" r="2.3" fill="#0000ff" stroke="none" stroke-width="0"/><circle cx="179.04" cy="379.80" r="2.3" fill="#0000ff" stroke="none" stroke-width="0"/><circle cx="182.01" cy="379.69" r="2.3" fill="#0000ff" stroke="none" stroke-width="0"/><circle cx="184.98" cy="379.11" r="2.3" fill="#0000ff" stroke="none" stroke-width="0"/><circle cx="187.96" cy="376.50" r="2.3" fill="#0000ff" stroke="none" stroke-width="0"/><circle cx="190.93" cy="372.81" r="2.3" fill="#0000ff" stroke="none" stroke-width="0"/><circle cx="193.90" cy="366.67" r="2.3" fill="#0000ff" stroke="none" stroke-width="0"/><circle cx="196.87" cy="355.34" r="2.3" fill="#0000ff" stroke="none" stroke-width="0"/><circle cx="199.84" cy="339.32" r="2.3" fill="#0000ff" stroke="none" stroke-width="0"/><circle cx="202.82" cy="325.13" r="2.3" fill="#0000ff" stroke="none" stroke-width="0"/><circle cx="205.79" cy="314.74" r="2.3" fill="#0000ff" stroke="none" stroke-width="0"/><circle cx="208.76" cy="307.57" r="2.3" fill="#0000ff" stroke="none" stroke-width="0"/><circle cx="211.73" cy="302.17" r="2.3" fill="#0000ff" stroke="none" stroke-width="0"/><circle cx="214.70" cy="298.30" r="2.3" fill="#0000ff" stroke="none" stroke-width="0"/><circle cx="217.68" cy="295.17" r="2.3" fill="#0000ff" stroke="none" stroke-width="0"/><circle cx="220.65" cy="292.93" r="2.3" fill="#0000ff" stroke="none" stroke-width="0"/><circle cx="223.62" cy="291.43" r="2.3" fill="#0000ff" stroke="none" stroke-width="0"/><circle cx="226.59" cy="290.26" r="2.3" fill="#0000ff" stroke="none" stroke-width="0"/><circle cx="229.56" cy="289.32" r="2.3" fill="#0000ff" stroke="none" stroke-width="0"/><circle cx="232.54" cy="288.52" r="2.3" fill="#0000ff" stroke="none" stroke-width="0"/><circle cx="235.51" cy="287.85" r="2.3" fill="#0000ff" stroke="none" stroke-width="0"/><circle cx="238.48" cy="287.27" r="2.3" fill="#0000ff" stroke="none" stroke-width="0"/><circle cx="241.45" cy="286.76" r="2.3" fill="#0000ff" stroke="none" stroke-width="0"/><circle cx="244.42" cy="286.29" r="2.3" fill="#0000ff" stroke="none" stroke-width="0"/><circle cx="247.40" cy="285.85" r="2.3" fill="#0000ff" stroke="none" stroke-width="0"/><circle cx="250.37" cy="285.44" r="2.3" fill="#0000ff" stroke="none" stroke-width="0"/><circle cx="253.34" cy="285.06" r="2.3" fill="#0000ff" stroke="none" stroke-width="0"/><circle cx="256.31" cy="284.69" r="2.3" fill="#0000ff" stroke="none" stroke-width="0"/><circle cx="259.28" cy="284.33" r="2.3" fill="#0000ff" stroke="none" stroke-width="0"/><circle cx="262.26" cy="283.96" r="2.3" fill="#0000ff" stroke="none" stroke-width="0"/><circle cx="265.23" cy="283.59" r="2.3" fill="#0000ff" stroke="none" stroke-width="0"/><circle cx="268.20" cy="283.21" r="2.3" fill="#0000ff" stroke="none" stroke-width="0"/><circle cx="271.17" cy="282.81" r="2.3" fill="#0000ff" stroke="none" stroke-width="0"/><circle cx="274.14" cy="282.39" r="2.3" fill="#0000ff" stroke="none" stroke-width="0"/><circle cx="277.12" cy="281.97" r="2.3" fill="#0000ff" stroke="none" stroke-width="0"/><circle cx="280.09" cy="281.56" r="2.3" fill="#0000ff" stroke="none" stroke-width="0"/><circle cx="283.06" cy="281.15" r="2.3" fill="#0000ff" stroke="none" stroke-width="0"/><circle cx="286.03" cy="280.77" r="2.3" fill="#0000ff" stroke="none" stroke-width="0"/><circle cx="289.00" cy="280.41" r="2.3" fill="#0000ff" stroke="none" stroke-width="0"/><circle cx="291.98" cy="280.09" r="2.3" fill="#0000ff" stroke="none" stroke-width="0"/><circle cx="294.95" cy="279.80" r="2.3" fill="#0000ff" stroke="none" stroke-width="0"/><circle cx="297.92" cy="279.55" r="2.3" fill="#0000ff" stroke="none" stroke-width="0"/><circle cx="300.89" cy="279.30" r="2.3" fill="#0000ff" stroke="none" stroke-width="0"/><circle cx="303.86" cy="279.05" r="2.3" fill="#0000ff" stroke="none" stroke-width="0"/><circle cx="306.84" cy="278.81" r="2.3" fill="#0000ff" stroke="none" stroke-width="0"/><circle cx="309.81" cy="278.57" r="2.3" fill="#0000ff" stroke="none" stroke-width="0"/><circle cx="312.78" cy="278.35" r="2.3" fill="#0000ff" stroke="none" stroke-width="0"/><circle cx="315.75" cy="278.13" r="2.3" fill="#0000ff" stroke="none" stroke-width="0"/><circle cx="318.72" cy="277.92" r="2.3" fill="#0000ff" stroke="none" stroke-width="0"/><circle cx="321.70" cy="277.72" r="2.3" fill="#0000ff" stroke="none" stroke-width="0"/><circle cx="324.67" cy="277.54" r="2.3" fill="#0000ff" stroke="none" stroke-width="0"/><circle cx="327.64" cy="277.37" r="2.3" fill="#0000ff" stroke="none" stroke-width="0"/><circle cx="330.61" cy="277.21" r="2.3" fill="#0000ff" stroke="none" stroke-width="0"/><circle cx="333.58" cy="277.07" r="2.3" fill="#0000ff" stroke="none" stroke-width="0"/><circle cx="336.56" cy="276.95" r="2.3" fill="#0000ff" stroke="none" stroke-width="0"/><circle cx="339.53" cy="276.84" r="2.3" fill="#0000ff" stroke="none" stroke-width="0"/><circle cx="342.50" cy="276.76" r="2.3" fill="#0000ff" stroke="none" stroke-width="0"/><path d="M45.30 339.67L46.79 339.76L48.29 339.86L49.78 339.95L51.27 340.04L52.77 340.13L54.26 340.22L55.75 340.31L57.25 340.40L58.74 340.48L60.23 340.57L61.73 340.66L63.22 340.75L64.72 340.83L66.21 340.93L67.70 341.02L69.20 341.11L70.69 341.21L72.18 341.31L73.68 341.41L75.17 341.51L76.66 341.62L78.16 341.73L79.65 341.84L81.14 341.96L82.64 342.07L84.13 342.19L85.62 342.31L87.12 342.43L88.61 342.56L90.10 342.68L91.60 342.81L93.09 342.94L94.58 343.07L96.08 343.20L97.57 343.33L99.06 343.46L100.56 343.60L102.05 343.73L103.55 343.87L105.04 344.00L106.53 344.14L108.03 344.27L109.52 344.41L111.01 344.54L112.51 344.68L114.00 344.82L115.49 344.96L116.99 345.11L118.48 345.26L119.97 345.42L121.47 345.58L122.96 345.75L124.45 345.93L125.95 346.12L127.44 346.33L128.93 346.54L130.43 346.78L131.92 347.03L133.41 347.30L134.91 347.58L136.40 347.89L137.89 348.23L139.39 348.60L140.88 348.99L142.38 349.41L143.87 349.85L145.36 350.31L146.86 350.80L148.35 351.33L149.84 351.88L151.34 352.49L152.83 353.14L154.32 353.86L155.82 354.66L157.31 355.67L158.80 356.76L160.30 357.80L161.79 358.74L163.28 359.69L164.78 360.73L166.27 361.98L167.76 363.40L169.26 364.84L170.75 366.16L172.24 367.48L173.74 368.69L175.23 369.62L176.73 370.39L178.22 370.96L179.71 371.21L181.21 371.37L182.70 371.47L184.19 371.49L185.69 371.15L187.18 370.51L188.67 369.28L190.17 367.51L191.66 365.24L193.15 361.82L194.65 357.31L196.14 350.56L197.63 343.80L199.13 337.32L200.62 330.44L202.11 322.66L203.61 316.00L205.10 310.26L206.59 305.19L208.09 300.90L209.58 297.09L211.07 293.67L212.57 290.83L214.06 288.72L215.56 287.00L217.05 285.52L218.54 284.28L220.04 283.27L221.53 282.48L223.02 281.79L224.52 281.18L226.01 280.65L227.50 280.17L229.00 279.74L230.49 279.35L231.98 278.99L233.48 278.67L234.97 278.37L236.46 278.10L237.96 277.84L239.45 277.59L240.94 277.34L242.44 277.10L243.93 276.86L245.42 276.62L246.92 276.39L248.41 276.16L249.91 275.94L251.40 275.72L252.89 275.51L254.39 275.30L255.88 275.09L257.37 274.89L258.87 274.69L260.36 274.50L261.85 274.30L263.35 274.11L264.84 273.93L266.33 273.74L267.83 273.56L269.32 273.38L270.81 273.20L272.31 273.03L273.80 272.85L275.29 272.68L276.79 272.51L278.28 272.35L279.77 272.18L281.27 272.02L282.76 271.86L284.25 271.71L285.75 271.56L287.24 271.41L288.74 271.27L290.23 271.12L291.72 270.99L293.22 270.85L294.71 270.72L296.20 270.60L297.70 270.47L299.19 270.35L300.68 270.23L302.18 270.10L303.67 269.98L305.16 269.86L306.66 269.74L308.15 269.63L309.64 269.51L311.14 269.40L312.63 269.28L314.12 269.17L315.62 269.06L317.11 268.95L318.60 268.84L320.10 268.74L321.59 268.64L323.08 268.53L324.58 268.43L326.07 268.34L327.57 268.24L329.06 268.15L330.55 268.06L332.05 267.97L333.54 267.88L335.03 267.80L336.53 267.72L338.02 267.64L339.51 267.56L341.01 267.49L342.50 267.41" fill="none" stroke="#ff0000" stroke-width="1.0"/><rect x="43.70" y="338.07" width="3.2" height="3.2" fill="#fff" stroke="#ff0000" stroke-width="1.1"/><rect x="46.67" y="338.26" width="3.2" height="3.2" fill="#fff" stroke="#ff0000" stroke-width="1.1"/><rect x="49.64" y="338.44" width="3.2" height="3.2" fill="#fff" stroke="#ff0000" stroke-width="1.1"/><rect x="52.62" y="338.62" width="3.2" height="3.2" fill="#fff" stroke="#ff0000" stroke-width="1.1"/><rect x="55.59" y="338.79" width="3.2" height="3.2" fill="#fff" stroke="#ff0000" stroke-width="1.1"/><rect x="58.56" y="338.97" width="3.2" height="3.2" fill="#fff" stroke="#ff0000" stroke-width="1.1"/><rect x="61.53" y="339.14" width="3.2" height="3.2" fill="#fff" stroke="#ff0000" stroke-width="1.1"/><rect x="64.50" y="339.32" width="3.2" height="3.2" fill="#fff" stroke="#ff0000" stroke-width="1.1"/><rect x="67.48" y="339.50" width="3.2" height="3.2" fill="#fff" stroke="#ff0000" stroke-width="1.1"/><rect x="70.45" y="339.70" width="3.2" height="3.2" fill="#fff" stroke="#ff0000" stroke-width="1.1"/><rect x="73.42" y="339.90" width="3.2" height="3.2" fill="#fff" stroke="#ff0000" stroke-width="1.1"/><rect x="76.39" y="340.12" width="3.2" height="3.2" fill="#fff" stroke="#ff0000" stroke-width="1.1"/><rect x="79.36" y="340.34" width="3.2" height="3.2" fill="#fff" stroke="#ff0000" stroke-width="1.1"/><rect x="82.34" y="340.58" width="3.2" height="3.2" fill="#fff" stroke="#ff0000" stroke-width="1.1"/><rect x="85.31" y="340.82" width="3.2" height="3.2" fill="#fff" stroke="#ff0000" stroke-width="1.1"/><rect x="88.28" y="341.06" width="3.2" height="3.2" fill="#fff" stroke="#ff0000" stroke-width="1.1"/><rect x="91.25" y="341.32" width="3.2" height="3.2" fill="#fff" stroke="#ff0000" stroke-width="1.1"/><rect x="94.22" y="341.58" width="3.2" height="3.2" fill="#fff" stroke="#ff0000" stroke-width="1.1"/><rect x="97.20" y="341.84" width="3.2" height="3.2" fill="#fff" stroke="#ff0000" stroke-width="1.1"/><rect x="100.17" y="342.11" width="3.2" height="3.2" fill="#fff" stroke="#ff0000" stroke-width="1.1"/><rect x="103.14" y="342.38" width="3.2" height="3.2" fill="#fff" stroke="#ff0000" stroke-width="1.1"/><rect x="106.11" y="342.65" width="3.2" height="3.2" fill="#fff" stroke="#ff0000" stroke-width="1.1"/><rect x="109.08" y="342.91" width="3.2" height="3.2" fill="#fff" stroke="#ff0000" stroke-width="1.1"/><rect x="112.06" y="343.19" width="3.2" height="3.2" fill="#fff" stroke="#ff0000" stroke-width="1.1"/><rect x="115.03" y="343.47" width="3.2" height="3.2" fill="#fff" stroke="#ff0000" stroke-width="1.1"/><rect x="118.00" y="343.78" width="3.2" height="3.2" fill="#fff" stroke="#ff0000" stroke-width="1.1"/><rect x="120.97" y="344.11" width="3.2" height="3.2" fill="#fff" stroke="#ff0000" stroke-width="1.1"/><rect x="123.94" y="344.47" width="3.2" height="3.2" fill="#fff" stroke="#ff0000" stroke-width="1.1"/><rect x="126.92" y="344.88" width="3.2" height="3.2" fill="#fff" stroke="#ff0000" stroke-width="1.1"/><rect x="129.89" y="345.35" width="3.2" height="3.2" fill="#fff" stroke="#ff0000" stroke-width="1.1"/><rect x="132.86" y="345.89" width="3.2" height="3.2" fill="#fff" stroke="#ff0000" stroke-width="1.1"/><rect x="135.83" y="346.52" width="3.2" height="3.2" fill="#fff" stroke="#ff0000" stroke-width="1.1"/><rect x="138.80" y="347.26" width="3.2" height="3.2" fill="#fff" stroke="#ff0000" stroke-width="1.1"/><rect x="141.78" y="348.10" width="3.2" height="3.2" fill="#fff" stroke="#ff0000" stroke-width="1.1"/><rect x="144.75" y="349.03" width="3.2" height="3.2" fill="#fff" stroke="#ff0000" stroke-width="1.1"/><rect x="147.72" y="350.08" width="3.2" height="3.2" fill="#fff" stroke="#ff0000" stroke-width="1.1"/><rect x="150.69" y="351.30" width="3.2" height="3.2" fill="#fff" stroke="#ff0000" stroke-width="1.1"/><rect x="153.66" y="352.74" width="3.2" height="3.2" fill="#fff" stroke="#ff0000" stroke-width="1.1"/><rect x="156.64" y="354.74" width="3.2" height="3.2" fill="#fff" stroke="#ff0000" stroke-width="1.1"/><rect x="159.61" y="356.78" width="3.2" height="3.2" fill="#fff" stroke="#ff0000" stroke-width="1.1"/><rect x="162.58" y="358.70" width="3.2" height="3.2" fill="#fff" stroke="#ff0000" stroke-width="1.1"/><rect x="165.55" y="361.21" width="3.2" height="3.2" fill="#fff" stroke="#ff0000" stroke-width="1.1"/><rect x="168.52" y="364.01" width="3.2" height="3.2" fill="#fff" stroke="#ff0000" stroke-width="1.1"/><rect x="171.50" y="366.60" width="3.2" height="3.2" fill="#fff" stroke="#ff0000" stroke-width="1.1"/><rect x="174.47" y="368.47" width="3.2" height="3.2" fill="#fff" stroke="#ff0000" stroke-width="1.1"/><rect x="177.44" y="369.52" width="3.2" height="3.2" fill="#fff" stroke="#ff0000" stroke-width="1.1"/><rect x="180.41" y="369.83" width="3.2" height="3.2" fill="#fff" stroke="#ff0000" stroke-width="1.1"/><rect x="183.38" y="369.77" width="3.2" height="3.2" fill="#fff" stroke="#ff0000" stroke-width="1.1"/><rect x="186.36" y="368.35" width="3.2" height="3.2" fill="#fff" stroke="#ff0000" stroke-width="1.1"/><rect x="189.33" y="364.86" width="3.2" height="3.2" fill="#fff" stroke="#ff0000" stroke-width="1.1"/><rect x="192.30" y="358.12" width="3.2" height="3.2" fill="#fff" stroke="#ff0000" stroke-width="1.1"/><rect x="195.27" y="345.52" width="3.2" height="3.2" fill="#fff" stroke="#ff0000" stroke-width="1.1"/><rect x="198.24" y="332.51" width="3.2" height="3.2" fill="#fff" stroke="#ff0000" stroke-width="1.1"/><rect x="201.22" y="317.69" width="3.2" height="3.2" fill="#fff" stroke="#ff0000" stroke-width="1.1"/><rect x="204.19" y="306.24" width="3.2" height="3.2" fill="#fff" stroke="#ff0000" stroke-width="1.1"/><rect x="207.16" y="297.55" width="3.2" height="3.2" fill="#fff" stroke="#ff0000" stroke-width="1.1"/><rect x="210.13" y="290.74" width="3.2" height="3.2" fill="#fff" stroke="#ff0000" stroke-width="1.1"/><rect x="213.10" y="286.35" width="3.2" height="3.2" fill="#fff" stroke="#ff0000" stroke-width="1.1"/><rect x="216.08" y="283.37" width="3.2" height="3.2" fill="#fff" stroke="#ff0000" stroke-width="1.1"/><rect x="219.05" y="281.33" width="3.2" height="3.2" fill="#fff" stroke="#ff0000" stroke-width="1.1"/><rect x="222.02" y="279.94" width="3.2" height="3.2" fill="#fff" stroke="#ff0000" stroke-width="1.1"/><rect x="224.99" y="278.86" width="3.2" height="3.2" fill="#fff" stroke="#ff0000" stroke-width="1.1"/><rect x="227.96" y="277.99" width="3.2" height="3.2" fill="#fff" stroke="#ff0000" stroke-width="1.1"/><rect x="230.94" y="277.27" width="3.2" height="3.2" fill="#fff" stroke="#ff0000" stroke-width="1.1"/><rect x="233.91" y="276.67" width="3.2" height="3.2" fill="#fff" stroke="#ff0000" stroke-width="1.1"/><rect x="236.88" y="276.16" width="3.2" height="3.2" fill="#fff" stroke="#ff0000" stroke-width="1.1"/><rect x="239.85" y="275.66" width="3.2" height="3.2" fill="#fff" stroke="#ff0000" stroke-width="1.1"/><rect x="242.82" y="275.18" width="3.2" height="3.2" fill="#fff" stroke="#ff0000" stroke-width="1.1"/><rect x="245.80" y="274.72" width="3.2" height="3.2" fill="#fff" stroke="#ff0000" stroke-width="1.1"/><rect x="248.77" y="274.27" width="3.2" height="3.2" fill="#fff" stroke="#ff0000" stroke-width="1.1"/><rect x="251.74" y="273.85" width="3.2" height="3.2" fill="#fff" stroke="#ff0000" stroke-width="1.1"/><rect x="254.71" y="273.43" width="3.2" height="3.2" fill="#fff" stroke="#ff0000" stroke-width="1.1"/><rect x="257.68" y="273.04" width="3.2" height="3.2" fill="#fff" stroke="#ff0000" stroke-width="1.1"/><rect x="260.66" y="272.65" width="3.2" height="3.2" fill="#fff" stroke="#ff0000" stroke-width="1.1"/><rect x="263.63" y="272.28" width="3.2" height="3.2" fill="#fff" stroke="#ff0000" stroke-width="1.1"/><rect x="266.60" y="271.92" width="3.2" height="3.2" fill="#fff" stroke="#ff0000" stroke-width="1.1"/><rect x="269.57" y="271.56" width="3.2" height="3.2" fill="#fff" stroke="#ff0000" stroke-width="1.1"/><rect x="272.54" y="271.21" width="3.2" height="3.2" fill="#fff" stroke="#ff0000" stroke-width="1.1"/><rect x="275.52" y="270.88" width="3.2" height="3.2" fill="#fff" stroke="#ff0000" stroke-width="1.1"/><rect x="278.49" y="270.55" width="3.2" height="3.2" fill="#fff" stroke="#ff0000" stroke-width="1.1"/><rect x="281.46" y="270.23" width="3.2" height="3.2" fill="#fff" stroke="#ff0000" stroke-width="1.1"/><rect x="284.43" y="269.93" width="3.2" height="3.2" fill="#fff" stroke="#ff0000" stroke-width="1.1"/><rect x="287.40" y="269.64" width="3.2" height="3.2" fill="#fff" stroke="#ff0000" stroke-width="1.1"/><rect x="290.38" y="269.36" width="3.2" height="3.2" fill="#fff" stroke="#ff0000" stroke-width="1.1"/><rect x="293.35" y="269.10" width="3.2" height="3.2" fill="#fff" stroke="#ff0000" stroke-width="1.1"/><rect x="296.32" y="268.85" width="3.2" height="3.2" fill="#fff" stroke="#ff0000" stroke-width="1.1"/><rect x="299.29" y="268.61" width="3.2" height="3.2" fill="#fff" stroke="#ff0000" stroke-width="1.1"/><rect x="302.26" y="268.37" width="3.2" height="3.2" fill="#fff" stroke="#ff0000" stroke-width="1.1"/><rect x="305.24" y="268.13" width="3.2" height="3.2" fill="#fff" stroke="#ff0000" stroke-width="1.1"/><rect x="308.21" y="267.90" width="3.2" height="3.2" fill="#fff" stroke="#ff0000" stroke-width="1.1"/><rect x="311.18" y="267.67" width="3.2" height="3.2" fill="#fff" stroke="#ff0000" stroke-width="1.1"/><rect x="314.15" y="267.45" width="3.2" height="3.2" fill="#fff" stroke="#ff0000" stroke-width="1.1"/><rect x="317.12" y="267.24" width="3.2" height="3.2" fill="#fff" stroke="#ff0000" stroke-width="1.1"/><rect x="320.10" y="267.03" width="3.2" height="3.2" fill="#fff" stroke="#ff0000" stroke-width="1.1"/><rect x="323.07" y="266.83" width="3.2" height="3.2" fill="#fff" stroke="#ff0000" stroke-width="1.1"/><rect x="326.04" y="266.64" width="3.2" height="3.2" fill="#fff" stroke="#ff0000" stroke-width="1.1"/><rect x="329.01" y="266.45" width="3.2" height="3.2" fill="#fff" stroke="#ff0000" stroke-width="1.1"/><rect x="331.98" y="266.28" width="3.2" height="3.2" fill="#fff" stroke="#ff0000" stroke-width="1.1"/><rect x="334.96" y="266.11" width="3.2" height="3.2" fill="#fff" stroke="#ff0000" stroke-width="1.1"/><rect x="337.93" y="265.96" width="3.2" height="3.2" fill="#fff" stroke="#ff0000" stroke-width="1.1"/><rect x="340.90" y="265.81" width="3.2" height="3.2" fill="#fff" stroke="#ff0000" stroke-width="1.1"/><path d="M45.30 319.85L46.79 319.92L48.29 319.98L49.78 320.03L51.27 320.09L52.77 320.14L54.26 320.18L55.75 320.23L57.25 320.27L58.74 320.31L60.23 320.34L61.73 320.38L63.22 320.42L64.72 320.46L66.21 320.50L67.70 320.54L69.20 320.59L70.69 320.64L72.18 320.69L73.68 320.75L75.17 320.81L76.66 320.87L78.16 320.94L79.65 321.02L81.14 321.09L82.64 321.18L84.13 321.26L85.62 321.35L87.12 321.44L88.61 321.53L90.10 321.62L91.60 321.72L93.09 321.81L94.58 321.91L96.08 322.01L97.57 322.11L99.06 322.21L100.56 322.31L102.05 322.41L103.55 322.51L105.04 322.60L106.53 322.70L108.03 322.80L109.52 322.89L111.01 322.99L112.51 323.09L114.00 323.19L115.49 323.29L116.99 323.39L118.48 323.49L119.97 323.60L121.47 323.72L122.96 323.83L124.45 323.95L125.95 324.08L127.44 324.22L128.93 324.36L130.43 324.51L131.92 324.66L133.41 324.82L134.91 324.99L136.40 325.16L137.89 325.34L139.39 325.52L140.88 325.71L142.38 325.91L143.87 326.13L145.36 326.36L146.86 326.60L148.35 326.85L149.84 327.12L151.34 327.42L152.83 327.75L154.32 328.12L155.82 328.54L157.31 329.07L158.80 329.70L160.30 330.47L161.79 331.49L163.28 332.74L164.78 334.10L166.27 335.47L167.76 336.95L169.26 338.64L170.75 340.74L172.24 343.48L173.74 346.27L175.23 349.10L176.73 351.88L178.22 354.66L179.71 357.75L181.21 360.89L182.70 363.71L184.19 365.68L185.69 366.91L187.18 367.06L188.67 365.66L190.17 363.30L191.66 360.26L193.15 355.58L194.65 350.63L196.14 345.00L197.63 337.83L199.13 328.69L200.62 320.59L202.11 313.62L203.61 308.85L205.10 304.73L206.59 300.50L208.09 296.64L209.58 292.99L211.07 289.52L212.57 286.56L214.06 284.42L215.56 282.77L217.05 281.38L218.54 280.17L220.04 279.08L221.53 278.01L223.02 276.95L224.52 275.93L226.01 274.98L227.50 274.13L229.00 273.41L230.49 272.86L231.98 272.46L233.48 272.11L234.97 271.82L236.46 271.56L237.96 271.32L239.45 271.09L240.94 270.85L242.44 270.63L243.93 270.41L245.42 270.20L246.92 269.99L248.41 269.79L249.91 269.59L251.40 269.40L252.89 269.22L254.39 269.04L255.88 268.86L257.37 268.69L258.87 268.52L260.36 268.35L261.85 268.19L263.35 268.03L264.84 267.87L266.33 267.72L267.83 267.57L269.32 267.42L270.81 267.27L272.31 267.13L273.80 266.99L275.29 266.85L276.79 266.72L278.28 266.59L279.77 266.46L281.27 266.33L282.76 266.21L284.25 266.08L285.75 265.96L287.24 265.84L288.74 265.71L290.23 265.59L291.72 265.47L293.22 265.35L294.71 265.22L296.20 265.10L297.70 264.98L299.19 264.85L300.68 264.73L302.18 264.61L303.67 264.49L305.16 264.37L306.66 264.25L308.15 264.12L309.64 264.00L311.14 263.88L312.63 263.77L314.12 263.65L315.62 263.53L317.11 263.41L318.60 263.29L320.10 263.17L321.59 263.06L323.08 262.94L324.58 262.83L326.07 262.71L327.57 262.60L329.06 262.48L330.55 262.37L332.05 262.26L333.54 262.14L335.03 262.03L336.53 261.92L338.02 261.81L339.51 261.70L341.01 261.59L342.50 261.48" fill="none" stroke="#00ff00" stroke-width="1.0"/><path d="M42.90 321.29L47.70 321.29L45.30 317.57Z" fill="#00ff00" stroke="#00ff00" stroke-width="0.4"/><path d="M45.87 321.42L50.67 321.42L48.27 317.70Z" fill="#00ff00" stroke="#00ff00" stroke-width="0.4"/><path d="M48.84 321.53L53.64 321.53L51.24 317.81Z" fill="#00ff00" stroke="#00ff00" stroke-width="0.4"/><path d="M51.82 321.62L56.62 321.62L54.22 317.90Z" fill="#00ff00" stroke="#00ff00" stroke-width="0.4"/><path d="M54.79 321.70L59.59 321.70L57.19 317.98Z" fill="#00ff00" stroke="#00ff00" stroke-width="0.4"/><path d="M57.76 321.78L62.56 321.78L60.16 318.06Z" fill="#00ff00" stroke="#00ff00" stroke-width="0.4"/><path d="M60.73 321.86L65.53 321.86L63.13 318.14Z" fill="#00ff00" stroke="#00ff00" stroke-width="0.4"/><path d="M63.70 321.94L68.50 321.94L66.10 318.22Z" fill="#00ff00" stroke="#00ff00" stroke-width="0.4"/><path d="M66.68 322.03L71.48 322.03L69.08 318.31Z" fill="#00ff00" stroke="#00ff00" stroke-width="0.4"/><path d="M69.65 322.12L74.45 322.12L72.05 318.40Z" fill="#00ff00" stroke="#00ff00" stroke-width="0.4"/><path d="M72.62 322.24L77.42 322.24L75.02 318.52Z" fill="#00ff00" stroke="#00ff00" stroke-width="0.4"/><path d="M75.59 322.38L80.39 322.38L77.99 318.66Z" fill="#00ff00" stroke="#00ff00" stroke-width="0.4"/><path d="M78.56 322.53L83.36 322.53L80.96 318.81Z" fill="#00ff00" stroke="#00ff00" stroke-width="0.4"/><path d="M81.54 322.69L86.34 322.69L83.94 318.97Z" fill="#00ff00" stroke="#00ff00" stroke-width="0.4"/><path d="M84.51 322.86L89.31 322.86L86.91 319.14Z" fill="#00ff00" stroke="#00ff00" stroke-width="0.4"/><path d="M87.48 323.05L92.28 323.05L89.88 319.33Z" fill="#00ff00" stroke="#00ff00" stroke-width="0.4"/><path d="M90.45 323.24L95.25 323.24L92.85 319.52Z" fill="#00ff00" stroke="#00ff00" stroke-width="0.4"/><path d="M93.42 323.43L98.22 323.43L95.82 319.71Z" fill="#00ff00" stroke="#00ff00" stroke-width="0.4"/><path d="M96.40 323.63L101.20 323.63L98.80 319.91Z" fill="#00ff00" stroke="#00ff00" stroke-width="0.4"/><path d="M99.37 323.83L104.17 323.83L101.77 320.11Z" fill="#00ff00" stroke="#00ff00" stroke-width="0.4"/><path d="M102.34 324.02L107.14 324.02L104.74 320.30Z" fill="#00ff00" stroke="#00ff00" stroke-width="0.4"/><path d="M105.31 324.22L110.11 324.22L107.71 320.50Z" fill="#00ff00" stroke="#00ff00" stroke-width="0.4"/><path d="M108.28 324.41L113.08 324.41L110.68 320.69Z" fill="#00ff00" stroke="#00ff00" stroke-width="0.4"/><path d="M111.26 324.60L116.06 324.60L113.66 320.88Z" fill="#00ff00" stroke="#00ff00" stroke-width="0.4"/><path d="M114.23 324.80L119.03 324.80L116.63 321.08Z" fill="#00ff00" stroke="#00ff00" stroke-width="0.4"/><path d="M117.20 325.02L122.00 325.02L119.60 321.30Z" fill="#00ff00" stroke="#00ff00" stroke-width="0.4"/><path d="M120.17 325.24L124.97 325.24L122.57 321.52Z" fill="#00ff00" stroke="#00ff00" stroke-width="0.4"/><path d="M123.14 325.49L127.94 325.49L125.54 321.77Z" fill="#00ff00" stroke="#00ff00" stroke-width="0.4"/><path d="M126.12 325.76L130.92 325.76L128.52 322.04Z" fill="#00ff00" stroke="#00ff00" stroke-width="0.4"/><path d="M129.09 326.06L133.89 326.06L131.49 322.34Z" fill="#00ff00" stroke="#00ff00" stroke-width="0.4"/><path d="M132.06 326.38L136.86 326.38L134.46 322.66Z" fill="#00ff00" stroke="#00ff00" stroke-width="0.4"/><path d="M135.03 326.72L139.83 326.72L137.43 323.00Z" fill="#00ff00" stroke="#00ff00" stroke-width="0.4"/><path d="M138.00 327.09L142.80 327.09L140.40 323.37Z" fill="#00ff00" stroke="#00ff00" stroke-width="0.4"/><path d="M140.98 327.49L145.78 327.49L143.38 323.77Z" fill="#00ff00" stroke="#00ff00" stroke-width="0.4"/><path d="M143.95 327.95L148.75 327.95L146.35 324.23Z" fill="#00ff00" stroke="#00ff00" stroke-width="0.4"/><path d="M146.92 328.46L151.72 328.46L149.32 324.74Z" fill="#00ff00" stroke="#00ff00" stroke-width="0.4"/><path d="M149.89 329.06L154.69 329.06L152.29 325.34Z" fill="#00ff00" stroke="#00ff00" stroke-width="0.4"/><path d="M152.86 329.81L157.66 329.81L155.26 326.09Z" fill="#00ff00" stroke="#00ff00" stroke-width="0.4"/><path d="M155.84 330.89L160.64 330.89L158.24 327.17Z" fill="#00ff00" stroke="#00ff00" stroke-width="0.4"/><path d="M158.81 332.50L163.61 332.50L161.21 328.78Z" fill="#00ff00" stroke="#00ff00" stroke-width="0.4"/><path d="M161.78 334.99L166.58 334.99L164.18 331.27Z" fill="#00ff00" stroke="#00ff00" stroke-width="0.4"/><path d="M164.75 337.76L169.55 337.76L167.15 334.04Z" fill="#00ff00" stroke="#00ff00" stroke-width="0.4"/><path d="M167.72 341.21L172.52 341.21L170.12 337.49Z" fill="#00ff00" stroke="#00ff00" stroke-width="0.4"/><path d="M170.70 346.52L175.50 346.52L173.10 342.80Z" fill="#00ff00" stroke="#00ff00" stroke-width="0.4"/><path d="M173.67 352.11L178.47 352.11L176.07 348.39Z" fill="#00ff00" stroke="#00ff00" stroke-width="0.4"/><path d="M176.64 357.73L181.44 357.73L179.04 354.01Z" fill="#00ff00" stroke="#00ff00" stroke-width="0.4"/><path d="M179.61 363.89L184.41 363.89L182.01 360.17Z" fill="#00ff00" stroke="#00ff00" stroke-width="0.4"/><path d="M182.58 367.84L187.38 367.84L184.98 364.12Z" fill="#00ff00" stroke="#00ff00" stroke-width="0.4"/><path d="M185.56 367.93L190.36 367.93L187.96 364.21Z" fill="#00ff00" stroke="#00ff00" stroke-width="0.4"/><path d="M188.53 363.39L193.33 363.39L190.93 359.67Z" fill="#00ff00" stroke="#00ff00" stroke-width="0.4"/><path d="M191.50 354.59L196.30 354.59L193.90 350.87Z" fill="#00ff00" stroke="#00ff00" stroke-width="0.4"/><path d="M194.47 343.27L199.27 343.27L196.87 339.55Z" fill="#00ff00" stroke="#00ff00" stroke-width="0.4"/><path d="M197.44 326.19L202.24 326.19L199.84 322.47Z" fill="#00ff00" stroke="#00ff00" stroke-width="0.4"/><path d="M200.42 312.63L205.22 312.63L202.82 308.91Z" fill="#00ff00" stroke="#00ff00" stroke-width="0.4"/><path d="M203.39 304.21L208.19 304.21L205.79 300.49Z" fill="#00ff00" stroke="#00ff00" stroke-width="0.4"/><path d="M206.36 296.44L211.16 296.44L208.76 292.72Z" fill="#00ff00" stroke="#00ff00" stroke-width="0.4"/><path d="M209.33 289.57L214.13 289.57L211.73 285.85Z" fill="#00ff00" stroke="#00ff00" stroke-width="0.4"/><path d="M212.30 285.12L217.10 285.12L214.70 281.40Z" fill="#00ff00" stroke="#00ff00" stroke-width="0.4"/><path d="M215.28 282.30L220.08 282.30L217.68 278.58Z" fill="#00ff00" stroke="#00ff00" stroke-width="0.4"/><path d="M218.25 280.08L223.05 280.08L220.65 276.36Z" fill="#00ff00" stroke="#00ff00" stroke-width="0.4"/><path d="M221.22 277.97L226.02 277.97L223.62 274.25Z" fill="#00ff00" stroke="#00ff00" stroke-width="0.4"/><path d="M224.19 276.07L228.99 276.07L226.59 272.35Z" fill="#00ff00" stroke="#00ff00" stroke-width="0.4"/><path d="M227.16 274.62L231.96 274.62L229.56 270.90Z" fill="#00ff00" stroke="#00ff00" stroke-width="0.4"/><path d="M230.14 273.76L234.94 273.76L232.54 270.04Z" fill="#00ff00" stroke="#00ff00" stroke-width="0.4"/><path d="M233.11 273.16L237.91 273.16L235.51 269.44Z" fill="#00ff00" stroke="#00ff00" stroke-width="0.4"/><path d="M236.08 272.68L240.88 272.68L238.48 268.96Z" fill="#00ff00" stroke="#00ff00" stroke-width="0.4"/><path d="M239.05 272.22L243.85 272.22L241.45 268.50Z" fill="#00ff00" stroke="#00ff00" stroke-width="0.4"/><path d="M242.02 271.78L246.82 271.78L244.42 268.06Z" fill="#00ff00" stroke="#00ff00" stroke-width="0.4"/><path d="M245.00 271.36L249.80 271.36L247.40 267.64Z" fill="#00ff00" stroke="#00ff00" stroke-width="0.4"/><path d="M247.97 270.97L252.77 270.97L250.37 267.25Z" fill="#00ff00" stroke="#00ff00" stroke-width="0.4"/><path d="M250.94 270.60L255.74 270.60L253.34 266.88Z" fill="#00ff00" stroke="#00ff00" stroke-width="0.4"/><path d="M253.91 270.25L258.71 270.25L256.31 266.53Z" fill="#00ff00" stroke="#00ff00" stroke-width="0.4"/><path d="M256.88 269.91L261.68 269.91L259.28 266.19Z" fill="#00ff00" stroke="#00ff00" stroke-width="0.4"/><path d="M259.86 269.59L264.66 269.59L262.26 265.87Z" fill="#00ff00" stroke="#00ff00" stroke-width="0.4"/><path d="M262.83 269.27L267.63 269.27L265.23 265.55Z" fill="#00ff00" stroke="#00ff00" stroke-width="0.4"/><path d="M265.80 268.97L270.60 268.97L268.20 265.25Z" fill="#00ff00" stroke="#00ff00" stroke-width="0.4"/><path d="M268.77 268.68L273.57 268.68L271.17 264.96Z" fill="#00ff00" stroke="#00ff00" stroke-width="0.4"/><path d="M271.74 268.40L276.54 268.40L274.14 264.68Z" fill="#00ff00" stroke="#00ff00" stroke-width="0.4"/><path d="M274.72 268.13L279.52 268.13L277.12 264.41Z" fill="#00ff00" stroke="#00ff00" stroke-width="0.4"/><path d="M277.69 267.87L282.49 267.87L280.09 264.15Z" fill="#00ff00" stroke="#00ff00" stroke-width="0.4"/><path d="M280.66 267.62L285.46 267.62L283.06 263.90Z" fill="#00ff00" stroke="#00ff00" stroke-width="0.4"/><path d="M283.63 267.37L288.43 267.37L286.03 263.65Z" fill="#00ff00" stroke="#00ff00" stroke-width="0.4"/><path d="M286.60 267.13L291.40 267.13L289.00 263.41Z" fill="#00ff00" stroke="#00ff00" stroke-width="0.4"/><path d="M289.58 266.89L294.38 266.89L291.98 263.17Z" fill="#00ff00" stroke="#00ff00" stroke-width="0.4"/><path d="M292.55 266.64L297.35 266.64L294.95 262.92Z" fill="#00ff00" stroke="#00ff00" stroke-width="0.4"/><path d="M295.52 266.40L300.32 266.40L297.92 262.68Z" fill="#00ff00" stroke="#00ff00" stroke-width="0.4"/><path d="M298.49 266.15L303.29 266.15L300.89 262.43Z" fill="#00ff00" stroke="#00ff00" stroke-width="0.4"/><path d="M301.46 265.91L306.26 265.91L303.86 262.19Z" fill="#00ff00" stroke="#00ff00" stroke-width="0.4"/><path d="M304.44 265.67L309.24 265.67L306.84 261.95Z" fill="#00ff00" stroke="#00ff00" stroke-width="0.4"/><path d="M307.41 265.43L312.21 265.43L309.81 261.71Z" fill="#00ff00" stroke="#00ff00" stroke-width="0.4"/><path d="M310.38 265.19L315.18 265.19L312.78 261.47Z" fill="#00ff00" stroke="#00ff00" stroke-width="0.4"/><path d="M313.35 264.96L318.15 264.96L315.75 261.24Z" fill="#00ff00" stroke="#00ff00" stroke-width="0.4"/><path d="M316.32 264.72L321.12 264.72L318.72 261.00Z" fill="#00ff00" stroke="#00ff00" stroke-width="0.4"/><path d="M319.30 264.49L324.10 264.49L321.70 260.77Z" fill="#00ff00" stroke="#00ff00" stroke-width="0.4"/><path d="M322.27 264.26L327.07 264.26L324.67 260.54Z" fill="#00ff00" stroke="#00ff00" stroke-width="0.4"/><path d="M325.24 264.03L330.04 264.03L327.64 260.31Z" fill="#00ff00" stroke="#00ff00" stroke-width="0.4"/><path d="M328.21 263.80L333.01 263.80L330.61 260.08Z" fill="#00ff00" stroke="#00ff00" stroke-width="0.4"/><path d="M331.18 263.58L335.98 263.58L333.58 259.86Z" fill="#00ff00" stroke="#00ff00" stroke-width="0.4"/><path d="M334.16 263.36L338.96 263.36L336.56 259.64Z" fill="#00ff00" stroke="#00ff00" stroke-width="0.4"/><path d="M337.13 263.14L341.93 263.14L339.53 259.42Z" fill="#00ff00" stroke="#00ff00" stroke-width="0.4"/><path d="M340.10 262.92L344.90 262.92L342.50 259.20Z" fill="#00ff00" stroke="#00ff00" stroke-width="0.4"/><rect x="49.6" y="5.6" width="288.59999999999997" height="166.4" fill="none" stroke="#000" stroke-width="1.5"/><path d="M55.75 172.0V167.5M55.75 5.6V10.1M83.40 172.0V167.5M83.40 5.6V10.1M111.05 172.0V167.5M111.05 5.6V10.1M138.70 172.0V167.5M138.70 5.6V10.1M166.35 172.0V167.5M166.35 5.6V10.1M194.00 172.0V167.5M194.00 5.6V10.1M221.65 172.0V167.5M221.65 5.6V10.1M249.30 172.0V167.5M249.30 5.6V10.1M276.95 172.0V167.5M276.95 5.6V10.1M304.60 172.0V167.5M304.60 5.6V10.1M332.25 172.0V167.5M332.25 5.6V10.1M69.58 172.0V169.2M69.58 5.6V8.399999999999999M97.23 172.0V169.2M97.23 5.6V8.399999999999999M124.88 172.0V169.2M124.88 5.6V8.399999999999999M152.53 172.0V169.2M152.53 5.6V8.399999999999999M180.18 172.0V169.2M180.18 5.6V8.399999999999999M207.82 172.0V169.2M207.82 5.6V8.399999999999999M235.47 172.0V169.2M235.47 5.6V8.399999999999999M263.12 172.0V169.2M263.12 5.6V8.399999999999999M290.77 172.0V169.2M290.77 5.6V8.399999999999999M318.43 172.0V169.2M318.43 5.6V8.399999999999999M49.6 172.00H54.1M338.2 172.00H333.7M49.6 130.40H54.1M338.2 130.40H333.7M49.6 88.80H54.1M338.2 88.80H333.7M49.6 47.20H54.1M338.2 47.20H333.7M49.6 5.60H54.1M338.2 5.60H333.7M49.6 161.60H52.4M338.2 161.60H335.4M49.6 151.20H52.4M338.2 151.20H335.4M49.6 140.80H52.4M338.2 140.80H335.4M49.6 120.00H52.4M338.2 120.00H335.4M49.6 109.60H52.4M338.2 109.60H335.4M49.6 99.20H52.4M338.2 99.20H335.4M49.6 78.40H52.4M338.2 78.40H335.4M49.6 68.00H52.4M338.2 68.00H335.4M49.6 57.60H52.4M338.2 57.60H335.4M49.6 36.80H52.4M338.2 36.80H335.4M49.6 26.40H52.4M338.2 26.40H335.4M49.6 16.00H52.4M338.2 16.00H335.4" stroke="#000" stroke-width="1.3" fill="none"/><text transform="translate(55.75 187.3) scale(1 1.09)" font-size="14" text-anchor="middle">-5</text><text transform="translate(83.40 187.3) scale(1 1.09)" font-size="14" text-anchor="middle">-4</text><text transform="translate(111.05 187.3) scale(1 1.09)" font-size="14" text-anchor="middle">-3</text><text transform="translate(138.70 187.3) scale(1 1.09)" font-size="14" text-anchor="middle">-2</text><text transform="translate(166.35 187.3) scale(1 1.09)" font-size="14" text-anchor="middle">-1</text><text transform="translate(194.00 187.3) scale(1 1.09)" font-size="14" text-anchor="middle">0</text><text transform="translate(221.65 187.3) scale(1 1.09)" font-size="14" text-anchor="middle">1</text><text transform="translate(249.30 187.3) scale(1 1.09)" font-size="14" text-anchor="middle">2</text><text transform="translate(276.95 187.3) scale(1 1.09)" font-size="14" text-anchor="middle">3</text><text transform="translate(304.60 187.3) scale(1 1.09)" font-size="14" text-anchor="middle">4</text><text transform="translate(332.25 187.3) scale(1 1.09)" font-size="14" text-anchor="middle">5</text><text transform="translate(46.0 177.40) scale(1 1.09)" font-size="14" text-anchor="end">40</text><text transform="translate(46.0 135.80) scale(1 1.09)" font-size="14" text-anchor="end">60</text><text transform="translate(46.0 94.20) scale(1 1.09)" font-size="14" text-anchor="end">80</text><text transform="translate(46.0 52.60) scale(1 1.09)" font-size="14" text-anchor="end">100</text><text transform="translate(46.0 11.00) scale(1 1.09)" font-size="14" text-anchor="end">120</text><rect x="41.5" y="242.6" width="305.3" height="167.00000000000003" fill="none" stroke="#000" stroke-width="1.5"/><path d="M75.02 409.6V405.1M75.02 242.6V247.1M104.74 409.6V405.1M104.74 242.6V247.1M134.46 409.6V405.1M134.46 242.6V247.1M164.18 409.6V405.1M164.18 242.6V247.1M193.90 409.6V405.1M193.90 242.6V247.1M223.62 409.6V405.1M223.62 242.6V247.1M253.34 409.6V405.1M253.34 242.6V247.1M283.06 409.6V405.1M283.06 242.6V247.1M312.78 409.6V405.1M312.78 242.6V247.1M60.16 409.6V406.8M60.16 242.6V245.4M89.88 409.6V406.8M89.88 242.6V245.4M119.60 409.6V406.8M119.60 242.6V245.4M149.32 409.6V406.8M149.32 242.6V245.4M179.04 409.6V406.8M179.04 242.6V245.4M208.76 409.6V406.8M208.76 242.6V245.4M238.48 409.6V406.8M238.48 242.6V245.4M268.20 409.6V406.8M268.20 242.6V245.4M297.92 409.6V406.8M297.92 242.6V245.4M327.64 409.6V406.8M327.64 242.6V245.4M41.5 409.60H46.0M346.8 409.60H342.3M41.5 376.20H46.0M346.8 376.20H342.3M41.5 342.80H46.0M346.8 342.80H342.3M41.5 309.40H46.0M346.8 309.40H342.3M41.5 276.00H46.0M346.8 276.00H342.3M41.5 242.60H46.0M346.8 242.60H342.3M41.5 402.92H44.3M346.8 402.92H344.0M41.5 396.24H44.3M346.8 396.24H344.0M41.5 389.56H44.3M346.8 389.56H344.0M41.5 382.88H44.3M346.8 382.88H344.0M41.5 369.52H44.3M346.8 369.52H344.0M41.5 362.84H44.3M346.8 362.84H344.0M41.5 356.16H44.3M346.8 356.16H344.0M41.5 349.48H44.3M346.8 349.48H344.0M41.5 336.12H44.3M346.8 336.12H344.0M41.5 329.44H44.3M346.8 329.44H344.0M41.5 322.76H44.3M346.8 322.76H344.0M41.5 316.08H44.3M346.8 316.08H344.0M41.5 302.72H44.3M346.8 302.72H344.0M41.5 296.04H44.3M346.8 296.04H344.0M41.5 289.36H44.3M346.8 289.36H344.0M41.5 282.68H44.3M346.8 282.68H344.0M41.5 269.32H44.3M346.8 269.32H344.0M41.5 262.64H44.3M346.8 262.64H344.0M41.5 255.96H44.3M346.8 255.96H344.0M41.5 249.28H44.3M346.8 249.28H344.0" stroke="#000" stroke-width="1.3" fill="none"/><text transform="translate(45.30 425.5) scale(1 1.09)" font-size="14" text-anchor="middle">-5</text><text transform="translate(75.02 425.5) scale(1 1.09)" font-size="14" text-anchor="middle">-4</text><text transform="translate(104.74 425.5) scale(1 1.09)" font-size="14" text-anchor="middle">-3</text><text transform="translate(134.46 425.5) scale(1 1.09)" font-size="14" text-anchor="middle">-2</text><text transform="translate(164.18 425.5) scale(1 1.09)" font-size="14" text-anchor="middle">-1</text><text transform="translate(193.90 425.5) scale(1 1.09)" font-size="14" text-anchor="middle">0</text><text transform="translate(223.62 425.5) scale(1 1.09)" font-size="14" text-anchor="middle">1</text><text transform="translate(253.34 425.5) scale(1 1.09)" font-size="14" text-anchor="middle">2</text><text transform="translate(283.06 425.5) scale(1 1.09)" font-size="14" text-anchor="middle">3</text><text transform="translate(312.78 425.5) scale(1 1.09)" font-size="14" text-anchor="middle">4</text><text transform="translate(342.50 425.5) scale(1 1.09)" font-size="14" text-anchor="middle">5</text><text transform="translate(38.2 415.00) scale(1 1.09)" font-size="14" text-anchor="end">10</text><text transform="translate(38.2 381.60) scale(1 1.09)" font-size="14" text-anchor="end">11</text><text transform="translate(38.2 348.20) scale(1 1.09)" font-size="14" text-anchor="end">12</text><text transform="translate(38.2 314.80) scale(1 1.09)" font-size="14" text-anchor="end">13</text><text transform="translate(38.2 281.40) scale(1 1.09)" font-size="14" text-anchor="end">14</text><text transform="translate(38.2 248.00) scale(1 1.09)" font-size="14" text-anchor="end">15</text><text transform="translate(147.6 207.3) scale(1 1.05)" font-size="20">Voltage, V</text><text transform="translate(147.1 445.0) scale(1 1.05)" font-size="20">Voltage, V</text><text transform="translate(16.3 88.1) rotate(-90)" font-size="20.4" text-anchor="middle">Capacitance, pF</text><text transform="translate(16.3 324.9) rotate(-90)" font-size="20.4" text-anchor="middle">Capacitance, pF</text><text x="71.6" y="25.6" font-size="15">210 K, FVS</text><text x="176.6" y="33.2" font-size="20.8">(a)</text><text x="66.6" y="307" font-size="15.1">77 K, FVS</text><text x="159.6" y="272" font-size="20.8">(b)</text><text x="264.4" y="81.9" font-size="10.4">Sample A</text><text x="249.3" y="97.4" font-size="10.4">Frequency, kHz</text><path d="M249.3 105.3H263" stroke="#008000" stroke-width="1"/><path d="M254.40 103.95L258.00 103.95L256.20 107.37Z" fill="#008000" stroke="#008000" stroke-width="0.4"/><text x="266.6" y="109.0" font-size="10.4">2</text><path d="M249.3 117.3H263" stroke="#ff00ff" stroke-width="1"/><path d="M254.00 118.62L258.40 118.62L256.20 115.21Z" fill="none" stroke="#ff00ff" stroke-width="0.85"/><text x="266.6" y="121.0" font-size="10.4">5</text><path d="M249.3 128.6H263" stroke="#00ff00" stroke-width="1"/><circle cx="256.20" cy="128.60" r="1.6" fill="#00ff00" stroke="none" stroke-width="0"/><text x="266.6" y="132.29999999999998" font-size="10.4">10</text><path d="M249.3 140.3H263" stroke="#ff0000" stroke-width="1"/><rect x="254.40" y="138.50" width="3.6" height="3.6" fill="none" stroke="#ff0000" stroke-width="0.9"/><text x="266.6" y="144.0" font-size="10.4">20</text><path d="M249.3 151.5H263" stroke="#0000ff" stroke-width="1"/><circle cx="256.20" cy="151.50" r="2.2" fill="#0000ff" stroke="none" stroke-width="0"/><text x="266.6" y="155.2" font-size="10.4">50</text><text x="236" y="318" font-size="10.4">Sample B</text><text x="242.5" y="339.9" font-size="10.4">Frequency, kHz</text><path d="M242 346.9H255.4" stroke="#00ff00" stroke-width="1"/><path d="M246.50 348.22L250.90 348.22L248.70 344.81Z" fill="#00ff00" stroke="#00ff00" stroke-width="0.4"/><text x="259.6" y="350.59999999999997" font-size="10.4">50</text><path d="M242 358.3H255.4" stroke="#ff0000" stroke-width="1"/><rect x="247.10" y="356.70" width="3.2" height="3.2" fill="#fff" stroke="#ff0000" stroke-width="1.1"/><text x="259.6" y="362.0" font-size="10.4">500</text><path d="M242 369.7H255.4" stroke="#3535b0" stroke-width="1"/><circle cx="248.70" cy="369.70" r="2.2" fill="#0000ff" stroke="none" stroke-width="0"/><text x="259.6" y="373.4" font-size="10.4">1000</text></svg></body></html>
